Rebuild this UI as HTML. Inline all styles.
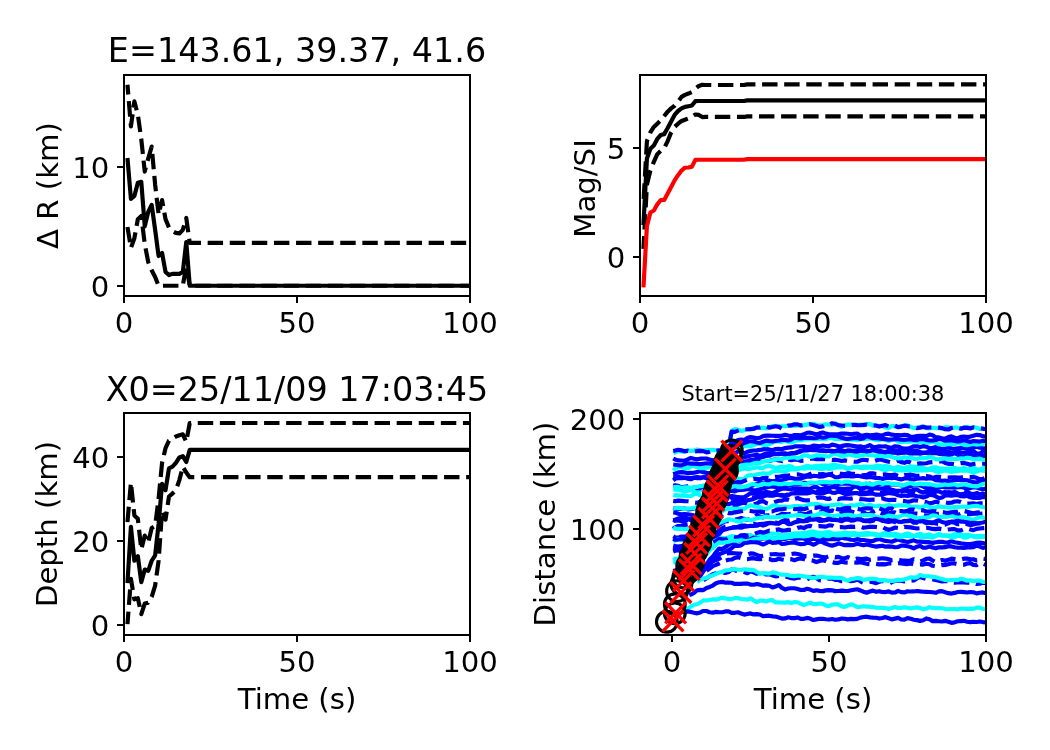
<!DOCTYPE html><html><head><meta charset="utf-8"><title>plot</title><style>html,body{margin:0;padding:0;background:#fff}svg{display:block}</style></head><body><svg width="1050" height="750" viewBox="0 0 1050 750" font-family='"DejaVu Sans", "Liberation Sans", sans-serif' fill="#000"><clipPath id="c1"><rect x="124" y="75" width="346" height="221"/></clipPath>
<g clip-path="url(#c1)"><path d="M127.46 158.02 L130.92 198.94 L134.38 195.97 L137.84 182.76 L141.3 181.81 L144.76 226.3 L148.22 212.02 L151.68 204.89 L155.14 229.87 L158.6 256.03 L162.06 252.94 L165.52 271.97 L168.98 275.07 L172.44 273.88 L175.9 273.88 L179.36 273.88 L182.82 271.97 L186.28 242 L189.74 285.77 L193.2 285.77 L196.66 285.77 L200.12 285.77 L203.58 285.77 L207.04 285.77 L210.5 285.77 L213.96 285.77 L217.42 285.77 L220.88 285.77 L224.34 285.77 L227.8 285.77 L231.26 285.77 L234.72 285.77 L238.18 285.77 L241.64 285.77 L245.1 285.77 L248.56 285.77 L252.02 285.77 L255.48 285.77 L258.94 285.77 L262.4 285.77 L265.86 285.77 L269.32 285.77 L272.78 285.77 L276.24 285.77 L279.7 285.77 L283.16 285.77 L286.62 285.77 L290.08 285.77 L293.54 285.77 L297 285.77 L300.46 285.77 L303.92 285.77 L307.38 285.77 L310.84 285.77 L314.3 285.77 L317.76 285.77 L321.22 285.77 L324.68 285.77 L328.14 285.77 L331.6 285.77 L335.06 285.77 L338.52 285.77 L341.98 285.77 L345.44 285.77 L348.9 285.77 L352.36 285.77 L355.82 285.77 L359.28 285.77 L362.74 285.77 L366.2 285.77 L369.66 285.77 L373.12 285.77 L376.58 285.77 L380.04 285.77 L383.5 285.77 L386.96 285.77 L390.42 285.77 L393.88 285.77 L397.34 285.77 L400.8 285.77 L404.26 285.77 L407.72 285.77 L411.18 285.77 L414.64 285.77 L418.1 285.77 L421.56 285.77 L425.02 285.77 L428.48 285.77 L431.94 285.77 L435.4 285.77 L438.86 285.77 L442.32 285.77 L445.78 285.77 L449.24 285.77 L452.7 285.77 L456.16 285.77 L459.62 285.77 L463.08 285.77 L466.54 285.77 L470 285.77" fill="none" stroke="#000" stroke-width="4.17" stroke-linejoin="round" stroke-linecap="butt"/><path d="M127.46 84.75 L130.92 126.38 L134.38 101.41 L137.84 114.49 L141.3 139.47 L144.76 171.58 L148.22 158.5 L151.68 146.6 L155.14 184.67 L158.6 214.4 L162.06 200.13 L165.52 219.16 L168.98 227.49 L172.44 231.06 L175.9 232.84 L179.36 233.43 L182.82 229.87 L186.28 217.97 L189.74 242.95 L193.2 242.95 L196.66 242.95 L200.12 242.95 L203.58 242.95 L207.04 242.95 L210.5 242.95 L213.96 242.95 L217.42 242.95 L220.88 242.95 L224.34 242.95 L227.8 242.95 L231.26 242.95 L234.72 242.95 L238.18 242.95 L241.64 242.95 L245.1 242.95 L248.56 242.95 L252.02 242.95 L255.48 242.95 L258.94 242.95 L262.4 242.95 L265.86 242.95 L269.32 242.95 L272.78 242.95 L276.24 242.95 L279.7 242.95 L283.16 242.95 L286.62 242.95 L290.08 242.95 L293.54 242.95 L297 242.95 L300.46 242.95 L303.92 242.95 L307.38 242.95 L310.84 242.95 L314.3 242.95 L317.76 242.95 L321.22 242.95 L324.68 242.95 L328.14 242.95 L331.6 242.95 L335.06 242.95 L338.52 242.95 L341.98 242.95 L345.44 242.95 L348.9 242.95 L352.36 242.95 L355.82 242.95 L359.28 242.95 L362.74 242.95 L366.2 242.95 L369.66 242.95 L373.12 242.95 L376.58 242.95 L380.04 242.95 L383.5 242.95 L386.96 242.95 L390.42 242.95 L393.88 242.95 L397.34 242.95 L400.8 242.95 L404.26 242.95 L407.72 242.95 L411.18 242.95 L414.64 242.95 L418.1 242.95 L421.56 242.95 L425.02 242.95 L428.48 242.95 L431.94 242.95 L435.4 242.95 L438.86 242.95 L442.32 242.95 L445.78 242.95 L449.24 242.95 L452.7 242.95 L456.16 242.95 L459.62 242.95 L463.08 242.95 L466.54 242.95 L470 242.95" fill="none" stroke="#000" stroke-width="4.17" stroke-linejoin="round" stroke-linecap="butt" stroke-dasharray="15.43 6.67" stroke-dashoffset="5.6"/><path d="M127.46 227.01 L130.92 247.95 L134.38 238.19 L137.84 219.16 L141.3 215.95 L144.76 244.14 L148.22 261.98 L151.68 270.31 L155.14 276.97 L158.6 285.77 L162.06 285.77 L165.52 285.77 L168.98 285.77 L172.44 285.77 L175.9 285.77 L179.36 285.77 L182.82 285.77 L186.28 265.55 L189.74 285.77 L193.2 285.77 L196.66 285.77 L200.12 285.77 L203.58 285.77 L207.04 285.77 L210.5 285.77 L213.96 285.77 L217.42 285.77 L220.88 285.77 L224.34 285.77 L227.8 285.77 L231.26 285.77 L234.72 285.77 L238.18 285.77 L241.64 285.77 L245.1 285.77 L248.56 285.77 L252.02 285.77 L255.48 285.77 L258.94 285.77 L262.4 285.77 L265.86 285.77 L269.32 285.77 L272.78 285.77 L276.24 285.77 L279.7 285.77 L283.16 285.77 L286.62 285.77 L290.08 285.77 L293.54 285.77 L297 285.77 L300.46 285.77 L303.92 285.77 L307.38 285.77 L310.84 285.77 L314.3 285.77 L317.76 285.77 L321.22 285.77 L324.68 285.77 L328.14 285.77 L331.6 285.77 L335.06 285.77 L338.52 285.77 L341.98 285.77 L345.44 285.77 L348.9 285.77 L352.36 285.77 L355.82 285.77 L359.28 285.77 L362.74 285.77 L366.2 285.77 L369.66 285.77 L373.12 285.77 L376.58 285.77 L380.04 285.77 L383.5 285.77 L386.96 285.77 L390.42 285.77 L393.88 285.77 L397.34 285.77 L400.8 285.77 L404.26 285.77 L407.72 285.77 L411.18 285.77 L414.64 285.77 L418.1 285.77 L421.56 285.77 L425.02 285.77 L428.48 285.77 L431.94 285.77 L435.4 285.77 L438.86 285.77 L442.32 285.77 L445.78 285.77 L449.24 285.77 L452.7 285.77 L456.16 285.77 L459.62 285.77 L463.08 285.77 L466.54 285.77 L470 285.77" fill="none" stroke="#000" stroke-width="4.17" stroke-linejoin="round" stroke-linecap="butt" stroke-dasharray="15.43 6.67"/></g>
<rect x="124" y="75" width="346" height="221" fill="none" stroke="#000" stroke-width="2.0"/>
<line x1="124" y1="296" x2="124" y2="303" stroke="#000" stroke-width="2.0"/>
<text x="124" y="333" font-size="29.17" text-anchor="middle">0</text>
<line x1="297" y1="296" x2="297" y2="303" stroke="#000" stroke-width="2.0"/>
<text x="297" y="333" font-size="29.17" text-anchor="middle">50</text>
<line x1="470" y1="296" x2="470" y2="303" stroke="#000" stroke-width="2.0"/>
<text x="470" y="333" font-size="29.17" text-anchor="middle">100</text>
<line x1="117" y1="286" x2="124" y2="286" stroke="#000" stroke-width="2.0"/>
<text x="109.4" y="296.6" font-size="29.17" text-anchor="end">0</text>
<line x1="117" y1="167" x2="124" y2="167" stroke="#000" stroke-width="2.0"/>
<text x="109.4" y="177.6" font-size="29.17" text-anchor="end">10</text>
<text transform="translate(58 185.5) rotate(-90)" font-size="29.17" text-anchor="middle">Δ R (km)</text>
<text x="297" y="61.8" font-size="33.4" text-anchor="middle">E=143.61, 39.37, 41.6</text>
<clipPath id="c2"><rect x="640" y="75" width="346" height="221"/></clipPath>
<g clip-path="url(#c2)"><path d="M643.46 225.1 L646.92 158.56 L650.38 148.74 L653.84 145.47 L657.3 138.92 L660.76 135 L664.22 134.12 L667.68 128.01 L671.14 121.47 L674.6 114.92 L678.06 111 L681.52 108.38 L684.98 106.85 L688.44 106.2 L691.9 105.54 L695.36 101.18 L698.82 100.96 L702.28 100.96 L705.74 100.96 L709.2 100.96 L712.66 100.96 L716.12 100.96 L719.58 100.96 L723.04 100.96 L726.5 100.96 L729.96 100.96 L733.42 100.96 L736.88 100.96 L740.34 100.96 L743.8 100.96 L747.26 100.35 L750.72 100.35 L754.18 100.35 L757.64 100.35 L761.1 100.35 L764.56 100.35 L768.02 100.35 L771.48 100.35 L774.94 100.35 L778.4 100.35 L781.86 100.35 L785.32 100.35 L788.78 100.35 L792.24 100.35 L795.7 100.35 L799.16 100.35 L802.62 100.35 L806.08 100.35 L809.54 100.35 L813 100.35 L816.46 100.35 L819.92 100.35 L823.38 100.35 L826.84 100.35 L830.3 100.35 L833.76 100.35 L837.22 100.35 L840.68 100.35 L844.14 100.35 L847.6 100.35 L851.06 100.35 L854.52 100.35 L857.98 100.35 L861.44 100.35 L864.9 100.35 L868.36 100.35 L871.82 100.35 L875.28 100.35 L878.74 100.35 L882.2 100.35 L885.66 100.35 L889.12 100.35 L892.58 100.35 L896.04 100.35 L899.5 100.35 L902.96 100.35 L906.42 100.35 L909.88 100.35 L913.34 100.35 L916.8 100.35 L920.26 100.35 L923.72 100.35 L927.18 100.35 L930.64 100.35 L934.1 100.35 L937.56 100.35 L941.02 100.35 L944.48 100.35 L947.94 100.35 L951.4 100.35 L954.86 100.35 L958.32 100.35 L961.78 100.35 L965.24 100.35 L968.7 100.35 L972.16 100.35 L975.62 100.35 L979.08 100.35 L982.54 100.35 L986 100.35" fill="none" stroke="#000" stroke-width="4.17" stroke-linejoin="round" stroke-linecap="butt"/><path d="M643.46 202.19 L646.92 141.1 L650.38 132.38 L653.84 126.92 L657.3 123.65 L660.76 120.38 L664.22 116.01 L667.68 111.65 L671.14 108.38 L674.6 105.76 L678.06 101.83 L681.52 96.82 L684.98 94.85 L688.44 93.54 L691.9 92.02 L695.36 88.74 L698.82 85.91 L702.28 84.82 L705.74 84.97 L709.2 84.97 L712.66 84.97 L716.12 84.97 L719.58 84.97 L723.04 84.97 L726.5 84.97 L729.96 84.97 L733.42 84.97 L736.88 84.97 L740.34 84.97 L743.8 84.97 L747.26 84.38 L750.72 84.38 L754.18 84.38 L757.64 84.38 L761.1 84.38 L764.56 84.38 L768.02 84.38 L771.48 84.38 L774.94 84.38 L778.4 84.38 L781.86 84.38 L785.32 84.38 L788.78 84.38 L792.24 84.38 L795.7 84.38 L799.16 84.38 L802.62 84.38 L806.08 84.38 L809.54 84.38 L813 84.38 L816.46 84.38 L819.92 84.38 L823.38 84.38 L826.84 84.38 L830.3 84.38 L833.76 84.38 L837.22 84.38 L840.68 84.38 L844.14 84.38 L847.6 84.38 L851.06 84.38 L854.52 84.38 L857.98 84.38 L861.44 84.38 L864.9 84.38 L868.36 84.38 L871.82 84.38 L875.28 84.38 L878.74 84.38 L882.2 84.38 L885.66 84.38 L889.12 84.38 L892.58 84.38 L896.04 84.38 L899.5 84.38 L902.96 84.38 L906.42 84.38 L909.88 84.38 L913.34 84.38 L916.8 84.38 L920.26 84.38 L923.72 84.38 L927.18 84.38 L930.64 84.38 L934.1 84.38 L937.56 84.38 L941.02 84.38 L944.48 84.38 L947.94 84.38 L951.4 84.38 L954.86 84.38 L958.32 84.38 L961.78 84.38 L965.24 84.38 L968.7 84.38 L972.16 84.38 L975.62 84.38 L979.08 84.38 L982.54 84.38 L986 84.38" fill="none" stroke="#000" stroke-width="4.17" stroke-linejoin="round" stroke-linecap="butt" stroke-dasharray="15.43 6.67" stroke-dashoffset="-3.4"/><path d="M643.46 248.88 L646.92 184.74 L650.38 170.56 L653.84 161.83 L657.3 154.19 L660.76 150.92 L664.22 148.08 L667.68 141.1 L671.14 132.38 L674.6 126.92 L678.06 123.65 L681.52 121.03 L684.98 119.72 L688.44 118.41 L691.9 116.67 L695.36 114.49 L698.82 114.92 L702.28 117.11 L705.74 116.95 L709.2 116.95 L712.66 116.95 L716.12 116.95 L719.58 116.95 L723.04 116.95 L726.5 116.95 L729.96 116.95 L733.42 116.95 L736.88 116.95 L740.34 116.95 L743.8 116.95 L747.26 116.36 L750.72 116.36 L754.18 116.36 L757.64 116.36 L761.1 116.36 L764.56 116.36 L768.02 116.36 L771.48 116.36 L774.94 116.36 L778.4 116.36 L781.86 116.36 L785.32 116.36 L788.78 116.36 L792.24 116.36 L795.7 116.36 L799.16 116.36 L802.62 116.36 L806.08 116.36 L809.54 116.36 L813 116.36 L816.46 116.36 L819.92 116.36 L823.38 116.36 L826.84 116.36 L830.3 116.36 L833.76 116.36 L837.22 116.36 L840.68 116.36 L844.14 116.36 L847.6 116.36 L851.06 116.36 L854.52 116.36 L857.98 116.36 L861.44 116.36 L864.9 116.36 L868.36 116.36 L871.82 116.36 L875.28 116.36 L878.74 116.36 L882.2 116.36 L885.66 116.36 L889.12 116.36 L892.58 116.36 L896.04 116.36 L899.5 116.36 L902.96 116.36 L906.42 116.36 L909.88 116.36 L913.34 116.36 L916.8 116.36 L920.26 116.36 L923.72 116.36 L927.18 116.36 L930.64 116.36 L934.1 116.36 L937.56 116.36 L941.02 116.36 L944.48 116.36 L947.94 116.36 L951.4 116.36 L954.86 116.36 L958.32 116.36 L961.78 116.36 L965.24 116.36 L968.7 116.36 L972.16 116.36 L975.62 116.36 L979.08 116.36 L982.54 116.36 L986 116.36" fill="none" stroke="#000" stroke-width="4.17" stroke-linejoin="round" stroke-linecap="butt" stroke-dasharray="15.43 6.67" stroke-dashoffset="2.7"/><path d="M643.46 287.27 L646.92 226.19 L650.38 212.44 L653.84 210.48 L657.3 204.37 L660.76 200.01 L664.22 200.01 L667.68 193.46 L671.14 186.92 L674.6 180.37 L678.06 175.14 L681.52 170.56 L684.98 167.72 L688.44 167.5 L691.9 166.63 L695.36 159.87 L698.82 159.76 L702.28 159.76 L705.74 159.76 L709.2 159.76 L712.66 159.76 L716.12 159.76 L719.58 159.76 L723.04 159.76 L726.5 159.76 L729.96 159.76 L733.42 159.76 L736.88 159.76 L740.34 159.76 L743.8 159.76 L747.26 159.1 L750.72 159.1 L754.18 159.1 L757.64 159.1 L761.1 159.1 L764.56 159.1 L768.02 159.1 L771.48 159.1 L774.94 159.1 L778.4 159.1 L781.86 159.1 L785.32 159.1 L788.78 159.1 L792.24 159.1 L795.7 159.1 L799.16 159.1 L802.62 159.1 L806.08 159.1 L809.54 159.1 L813 159.1 L816.46 159.1 L819.92 159.1 L823.38 159.1 L826.84 159.1 L830.3 159.1 L833.76 159.1 L837.22 159.1 L840.68 159.1 L844.14 159.1 L847.6 159.1 L851.06 159.1 L854.52 159.1 L857.98 159.1 L861.44 159.1 L864.9 159.1 L868.36 159.1 L871.82 159.1 L875.28 159.1 L878.74 159.1 L882.2 159.1 L885.66 159.1 L889.12 159.1 L892.58 159.1 L896.04 159.1 L899.5 159.1 L902.96 159.1 L906.42 159.1 L909.88 159.1 L913.34 159.1 L916.8 159.1 L920.26 159.1 L923.72 159.1 L927.18 159.1 L930.64 159.1 L934.1 159.1 L937.56 159.1 L941.02 159.1 L944.48 159.1 L947.94 159.1 L951.4 159.1 L954.86 159.1 L958.32 159.1 L961.78 159.1 L965.24 159.1 L968.7 159.1 L972.16 159.1 L975.62 159.1 L979.08 159.1 L982.54 159.1 L986 159.1" fill="none" stroke="#f00" stroke-width="4.17" stroke-linejoin="round" stroke-linecap="butt"/></g>
<rect x="640" y="75" width="346" height="221" fill="none" stroke="#000" stroke-width="2.0"/>
<line x1="640" y1="296" x2="640" y2="303" stroke="#000" stroke-width="2.0"/>
<text x="640" y="333" font-size="29.17" text-anchor="middle">0</text>
<line x1="813" y1="296" x2="813" y2="303" stroke="#000" stroke-width="2.0"/>
<text x="813" y="333" font-size="29.17" text-anchor="middle">50</text>
<line x1="986" y1="296" x2="986" y2="303" stroke="#000" stroke-width="2.0"/>
<text x="986" y="333" font-size="29.17" text-anchor="middle">100</text>
<line x1="633" y1="257" x2="640" y2="257" stroke="#000" stroke-width="2.0"/>
<text x="625.4" y="267.6" font-size="29.17" text-anchor="end">0</text>
<line x1="633" y1="148" x2="640" y2="148" stroke="#000" stroke-width="2.0"/>
<text x="625.4" y="158.6" font-size="29.17" text-anchor="end">5</text>
<text transform="translate(595 188.5) rotate(-90)" font-size="29.17" text-anchor="middle">Mag/SI</text>
<clipPath id="c3"><rect x="124" y="413" width="346" height="222"/></clipPath>
<g clip-path="url(#c3)"><path d="M127.46 583.01 L130.92 526.73 L134.38 560.75 L137.84 556.13 L141.3 582.17 L144.76 569.57 L148.22 570.83 L151.68 560.75 L155.14 555.29 L158.6 523.79 L162.06 483.89 L165.52 490.19 L168.98 468.35 L172.44 466.67 L175.9 462.89 L179.36 457.43 L182.82 456.17 L186.28 462.05 L189.74 449.87 L193.2 449.87 L196.66 449.87 L200.12 449.87 L203.58 449.87 L207.04 449.87 L210.5 449.87 L213.96 449.87 L217.42 449.87 L220.88 449.87 L224.34 449.87 L227.8 449.87 L231.26 449.87 L234.72 449.87 L238.18 449.87 L241.64 449.87 L245.1 449.87 L248.56 449.87 L252.02 449.87 L255.48 449.87 L258.94 449.87 L262.4 449.87 L265.86 449.87 L269.32 449.87 L272.78 449.87 L276.24 449.87 L279.7 449.87 L283.16 449.87 L286.62 449.87 L290.08 449.87 L293.54 449.87 L297 449.87 L300.46 449.87 L303.92 449.87 L307.38 449.87 L310.84 449.87 L314.3 449.87 L317.76 449.87 L321.22 449.87 L324.68 449.87 L328.14 449.87 L331.6 449.87 L335.06 449.87 L338.52 449.87 L341.98 449.87 L345.44 449.87 L348.9 449.87 L352.36 449.87 L355.82 449.87 L359.28 449.87 L362.74 449.87 L366.2 449.87 L369.66 449.87 L373.12 449.87 L376.58 449.87 L380.04 449.87 L383.5 449.87 L386.96 449.87 L390.42 449.87 L393.88 449.87 L397.34 449.87 L400.8 449.87 L404.26 449.87 L407.72 449.87 L411.18 449.87 L414.64 449.87 L418.1 449.87 L421.56 449.87 L425.02 449.87 L428.48 449.87 L431.94 449.87 L435.4 449.87 L438.86 449.87 L442.32 449.87 L445.78 449.87 L449.24 449.87 L452.7 449.87 L456.16 449.87 L459.62 449.87 L463.08 449.87 L466.54 449.87 L470 449.87" fill="none" stroke="#000" stroke-width="4.17" stroke-linejoin="round" stroke-linecap="butt"/><path d="M127.46 522.11 L130.92 482.63 L134.38 515.39 L137.84 518.75 L141.3 549.41 L144.76 535.55 L148.22 542.69 L151.68 527.99 L155.14 525.89 L158.6 498.59 L162.06 462.89 L165.52 448.19 L168.98 440.63 L172.44 438.53 L175.9 436.43 L179.36 435.17 L182.82 434.33 L186.28 441.89 L189.74 423 L193.2 423 L196.66 423 L200.12 423 L203.58 423 L207.04 423 L210.5 423 L213.96 423 L217.42 423 L220.88 423 L224.34 423 L227.8 423 L231.26 423 L234.72 423 L238.18 423 L241.64 423 L245.1 423 L248.56 423 L252.02 423 L255.48 423 L258.94 423 L262.4 423 L265.86 423 L269.32 423 L272.78 423 L276.24 423 L279.7 423 L283.16 423 L286.62 423 L290.08 423 L293.54 423 L297 423 L300.46 423 L303.92 423 L307.38 423 L310.84 423 L314.3 423 L317.76 423 L321.22 423 L324.68 423 L328.14 423 L331.6 423 L335.06 423 L338.52 423 L341.98 423 L345.44 423 L348.9 423 L352.36 423 L355.82 423 L359.28 423 L362.74 423 L366.2 423 L369.66 423 L373.12 423 L376.58 423 L380.04 423 L383.5 423 L386.96 423 L390.42 423 L393.88 423 L397.34 423 L400.8 423 L404.26 423 L407.72 423 L411.18 423 L414.64 423 L418.1 423 L421.56 423 L425.02 423 L428.48 423 L431.94 423 L435.4 423 L438.86 423 L442.32 423 L445.78 423 L449.24 423 L452.7 423 L456.16 423 L459.62 423 L463.08 423 L466.54 423 L470 423" fill="none" stroke="#000" stroke-width="4.17" stroke-linejoin="round" stroke-linecap="butt" stroke-dasharray="15.43 6.67"/><path d="M127.46 624.16 L130.92 578.81 L134.38 599.39 L137.84 598.13 L141.3 614.09 L144.76 603.59 L148.22 602.75 L151.68 596.87 L155.14 585.53 L158.6 560.75 L162.06 511.19 L165.52 519.59 L168.98 496.49 L172.44 493.55 L175.9 490.19 L179.36 480.11 L182.82 466.67 L186.28 472.55 L189.74 477.17 L193.2 477.17 L196.66 477.17 L200.12 477.17 L203.58 477.17 L207.04 477.17 L210.5 477.17 L213.96 477.17 L217.42 477.17 L220.88 477.17 L224.34 477.17 L227.8 477.17 L231.26 477.17 L234.72 477.17 L238.18 477.17 L241.64 477.17 L245.1 477.17 L248.56 477.17 L252.02 477.17 L255.48 477.17 L258.94 477.17 L262.4 477.17 L265.86 477.17 L269.32 477.17 L272.78 477.17 L276.24 477.17 L279.7 477.17 L283.16 477.17 L286.62 477.17 L290.08 477.17 L293.54 477.17 L297 477.17 L300.46 477.17 L303.92 477.17 L307.38 477.17 L310.84 477.17 L314.3 477.17 L317.76 477.17 L321.22 477.17 L324.68 477.17 L328.14 477.17 L331.6 477.17 L335.06 477.17 L338.52 477.17 L341.98 477.17 L345.44 477.17 L348.9 477.17 L352.36 477.17 L355.82 477.17 L359.28 477.17 L362.74 477.17 L366.2 477.17 L369.66 477.17 L373.12 477.17 L376.58 477.17 L380.04 477.17 L383.5 477.17 L386.96 477.17 L390.42 477.17 L393.88 477.17 L397.34 477.17 L400.8 477.17 L404.26 477.17 L407.72 477.17 L411.18 477.17 L414.64 477.17 L418.1 477.17 L421.56 477.17 L425.02 477.17 L428.48 477.17 L431.94 477.17 L435.4 477.17 L438.86 477.17 L442.32 477.17 L445.78 477.17 L449.24 477.17 L452.7 477.17 L456.16 477.17 L459.62 477.17 L463.08 477.17 L466.54 477.17 L470 477.17" fill="none" stroke="#000" stroke-width="4.17" stroke-linejoin="round" stroke-linecap="butt" stroke-dasharray="15.43 6.67" stroke-dashoffset="2.8"/></g>
<rect x="124" y="413" width="346" height="222" fill="none" stroke="#000" stroke-width="2.0"/>
<line x1="124" y1="635" x2="124" y2="642" stroke="#000" stroke-width="2.0"/>
<text x="124" y="672" font-size="29.17" text-anchor="middle">0</text>
<line x1="297" y1="635" x2="297" y2="642" stroke="#000" stroke-width="2.0"/>
<text x="297" y="672" font-size="29.17" text-anchor="middle">50</text>
<line x1="470" y1="635" x2="470" y2="642" stroke="#000" stroke-width="2.0"/>
<text x="470" y="672" font-size="29.17" text-anchor="middle">100</text>
<line x1="117" y1="625" x2="124" y2="625" stroke="#000" stroke-width="2.0"/>
<text x="109.4" y="635.6" font-size="29.17" text-anchor="end">0</text>
<line x1="117" y1="541" x2="124" y2="541" stroke="#000" stroke-width="2.0"/>
<text x="109.4" y="551.6" font-size="29.17" text-anchor="end">20</text>
<line x1="117" y1="457" x2="124" y2="457" stroke="#000" stroke-width="2.0"/>
<text x="109.4" y="467.6" font-size="29.17" text-anchor="end">40</text>
<text x="297" y="708.5" font-size="29.17" text-anchor="middle">Time (s)</text>
<text transform="translate(57 524) rotate(-90)" font-size="29.17" text-anchor="middle">Depth (km)</text>
<text x="297" y="400.6" font-size="33.4" text-anchor="middle">X0=25/11/09 17:03:45</text>
<clipPath id="c4"><rect x="640" y="413" width="346" height="222"/></clipPath>
<g clip-path="url(#c4)"><path d="M708.11 565.02 L709.68 563.11 L712.82 561.38 L715.96 560.13 L719.1 558.82 L722.24 557.05 L725.38 554.21 L728.52 553.02 L731.66 553.1 L734.8 553.23 L737.94 553.63 L741.08 553.7 L744.22 554.88 L747.36 554.55 L750.5 553.38 L753.64 553.61 L756.78 554.87 L759.92 556.16 L763.06 555.75 L766.2 555.08 L769.34 554.45 L772.48 554.25 L775.62 554.17 L778.76 554.54 L781.9 554.7 L785.04 554.16 L788.18 554.73 L791.32 554.03 L794.46 553.53 L797.6 554 L800.74 554.83 L803.88 556.09 L807.02 556.11 L810.16 555.93 L813.3 555.57 L816.44 555.55 L819.58 556.32 L822.72 557.17 L825.86 557.39 L829 556.35 L832.14 556.69 L835.28 557.41 L838.42 556.9 L841.56 558.04 L844.7 558.43 L847.84 557.05 L850.98 558.37 L854.12 559.46 L857.26 558.57 L860.4 559.02 L863.54 558.87 L866.68 558.62 L869.82 559.89 L872.96 559.57 L876.1 558.56 L879.24 558.67 L882.38 558.25 L885.52 558.59 L888.66 559.33 L891.8 560.27 L894.94 560 L898.08 559.63 L901.22 560.23 L904.36 560.6 L907.5 560.9 L910.64 560.5 L913.78 559.26 L916.92 560.1 L920.06 561.64 L923.2 560.38 L926.34 558.78 L929.48 558.6 L932.62 560.47 L935.76 562.2 L938.9 560.96 L942.04 559.98 L945.18 560.81 L948.32 559.86 L951.46 558.64 L954.6 559.1 L957.74 559.59 L960.88 559.44 L964.02 558.7 L967.16 558.61 L970.3 559.22 L973.44 559.27 L976.58 560.44 L979.72 560.04 L982.86 558.65 L986 559.07" fill="none" stroke="#0000ff" stroke-width="4.17" stroke-linejoin="round" stroke-linecap="butt" stroke-dasharray="15.43 6.67"/><path d="M673.25 453.13 L675.14 452.37 L678.28 450.77 L681.42 451.39 L684.56 451.93 L687.7 450.32 L690.84 450.92 L693.98 450.56 L697.12 449.49 L700.26 450.44 L703.4 450.53 L706.54 450.06 L709.68 450.14 L712.82 449.83 L715.96 450.24 L719.1 451.07 L722.24 450.09 L725.38 449.82 L728.52 447.6 L731.66 430.78 L734.8 429.15 L737.94 429.6 L741.08 430.87 L744.22 430.38 L747.36 429.37 L750.5 429.14 L753.64 427.96 L756.78 428.04 L759.92 427.8 L763.06 427.62 L766.2 428.44 L769.34 427.23 L772.48 426.02 L775.62 425.74 L778.76 426.03 L781.9 426.28 L785.04 426.24 L788.18 425.85 L791.32 425.88 L794.46 425.9 L797.6 425.33 L800.74 425.34 L803.88 425.08 L807.02 424.62 L810.16 423.78 L813.3 423.76 L816.44 424.97 L819.58 425.21 L822.72 425.01 L825.86 424.31 L829 424.51 L832.14 424.84 L835.28 423.65 L838.42 425.32 L841.56 427 L844.7 425.46 L847.84 424.64 L850.98 424.66 L854.12 425.15 L857.26 424.95 L860.4 424.57 L863.54 425.34 L866.68 424.25 L869.82 423.87 L872.96 425.65 L876.1 426.01 L879.24 425.94 L882.38 426.03 L885.52 427.53 L888.66 427.87 L891.8 425.9 L894.94 426.39 L898.08 427.1 L901.22 426.03 L904.36 425.63 L907.5 425.44 L910.64 426.97 L913.78 428.11 L916.92 427.46 L920.06 427.03 L923.2 426.34 L926.34 428.26 L929.48 428.35 L932.62 427.74 L935.76 428.05 L938.9 428.16 L942.04 428.52 L945.18 427.11 L948.32 427.37 L951.46 428.01 L954.6 427.57 L957.74 427.68 L960.88 428.25 L964.02 427.56 L967.16 427.01 L970.3 428.11 L973.44 427.25 L976.58 427.81 L979.72 428.91 L982.86 428.5 L986 429.02" fill="none" stroke="#00ffff" stroke-width="4.17" stroke-linejoin="round" stroke-linecap="butt"/><path d="M673.25 489.34 L675.14 489.61 L678.28 489.65 L681.42 490.63 L684.56 491.84 L687.7 490.65 L690.84 490.35 L693.98 491.27 L697.12 491.56 L700.26 490.29 L703.4 489.06 L706.54 488.95 L709.68 489.9 L712.82 490.72 L715.96 488.85 L719.1 484.69 L722.24 479.44 L725.38 476.62 L728.52 472.9 L731.66 468.12 L734.8 468.93 L737.94 470.42 L741.08 469.38 L744.22 468.18 L747.36 469.14 L750.5 468.71 L753.64 467.99 L756.78 467.22 L759.92 467.86 L763.06 467.9 L766.2 466.35 L769.34 466.07 L772.48 466.89 L775.62 468 L778.76 467.23 L781.9 466.64 L785.04 467.03 L788.18 466.2 L791.32 466.3 L794.46 468.27 L797.6 468.23 L800.74 467.87 L803.88 467.1 L807.02 465.78 L810.16 466.47 L813.3 466.54 L816.44 465.76 L819.58 465.73 L822.72 465.48 L825.86 465.58 L829 465.76 L832.14 464.91 L835.28 464.62 L838.42 465.84 L841.56 466.27 L844.7 466.96 L847.84 468.07 L850.98 468.14 L854.12 466.97 L857.26 466.58 L860.4 467.2 L863.54 466.65 L866.68 466.68 L869.82 466.95 L872.96 466.85 L876.1 465.57 L879.24 465.73 L882.38 466.48 L885.52 466 L888.66 466.45 L891.8 467.76 L894.94 468.01 L898.08 466.76 L901.22 467.42 L904.36 468.4 L907.5 466.97 L910.64 466.24 L913.78 466.85 L916.92 466.89 L920.06 466.85 L923.2 468.01 L926.34 469 L929.48 468.72 L932.62 467.37 L935.76 467.35 L938.9 468.39 L942.04 468.54 L945.18 468.91 L948.32 468.57 L951.46 468.41 L954.6 468.16 L957.74 468.85 L960.88 468.9 L964.02 467.97 L967.16 469.26 L970.3 468.52 L973.44 467.62 L976.58 469.29 L979.72 469.65 L982.86 468.28 L986 468.07" fill="none" stroke="#00ffff" stroke-width="4.17" stroke-linejoin="round" stroke-linecap="butt"/><path d="M703.4 580.36 L706.54 578.22 L709.68 576.12 L712.82 574.19 L715.96 573.14 L719.1 572.28 L722.24 572.1 L725.38 572.95 L728.52 572.02 L731.66 569.46 L734.8 570.07 L737.94 571.63 L741.08 570.96 L744.22 572.04 L747.36 573.22 L750.5 571.26 L753.64 572.4 L756.78 573.73 L759.92 572.53 L763.06 573.34 L766.2 574.44 L769.34 574.24 L772.48 575.42 L775.62 576.34 L778.76 576.03 L781.9 575.89 L785.04 576.43 L788.18 577.37 L791.32 578.28 L794.46 578.55 L797.6 577.66 L800.74 577.58 L803.88 578.73 L807.02 579.43 L810.16 577.65 L813.3 576.72 L816.44 578.03 L819.58 580.28 L822.72 580.47 L825.86 578.93 L829 578.52 L832.14 578.72 L835.28 579.88 L838.42 580 L841.56 581.22 L844.7 581.11 L847.84 580.03 L850.98 581.17 L854.12 580.79 L857.26 579.57 L860.4 581.26 L863.54 582.82 L866.68 582.05 L869.82 581.76 L872.96 582.32 L876.1 583.14 L879.24 581.91 L882.38 580.75 L885.52 582.54 L888.66 583.82 L891.8 582.16 L894.94 580.82 L898.08 580.7 L901.22 580.76 L904.36 581.41 L907.5 580.88 L910.64 580.75 L913.78 580.47 L916.92 578.46 L920.06 576.91 L923.2 577.94 L926.34 578.96 L929.48 578.96 L932.62 579.34 L935.76 579.9 L938.9 580.65 L942.04 581.35 L945.18 581.2 L948.32 581.16 L951.46 582.23 L954.6 582.77 L957.74 582.48 L960.88 582.36 L964.02 582.44 L967.16 582.55 L970.3 582.71 L973.44 582.95 L976.58 583.92 L979.72 583.78 L982.86 582.66 L986 582.82" fill="none" stroke="#0000ff" stroke-width="4.17" stroke-linejoin="round" stroke-linecap="butt" stroke-dasharray="15.43 6.67"/><path d="M673.25 485.72 L675.14 485.41 L678.28 485.91 L681.42 487.29 L684.56 486.79 L687.7 486.32 L690.84 486.01 L693.98 486.17 L697.12 488.12 L700.26 488.16 L703.4 485.89 L706.54 485.6 L709.68 487.31 L712.82 487.59 L715.96 486.61 L719.1 481.19 L722.24 476.6 L725.38 471.28 L728.52 466.2 L731.66 462.26 L734.8 462.24 L737.94 461.21 L741.08 460.92 L744.22 461.18 L747.36 462.23 L750.5 462.79 L753.64 461.7 L756.78 461.69 L759.92 461.41 L763.06 460.83 L766.2 460.83 L769.34 461.14 L772.48 460.09 L775.62 459.14 L778.76 460.54 L781.9 461.05 L785.04 459.35 L788.18 459.45 L791.32 460.27 L794.46 459.4 L797.6 459.74 L800.74 460.8 L803.88 460.56 L807.02 459.58 L810.16 458.91 L813.3 458.54 L816.44 459.2 L819.58 459.21 L822.72 458.97 L825.86 459.38 L829 459.69 L832.14 459.99 L835.28 459.69 L838.42 460.19 L841.56 460.96 L844.7 460.42 L847.84 460.93 L850.98 461.22 L854.12 461.57 L857.26 461.76 L860.4 460.37 L863.54 459.72 L866.68 460.12 L869.82 460.67 L872.96 461.54 L876.1 460.5 L879.24 459.54 L882.38 460.06 L885.52 460.95 L888.66 461.77 L891.8 462.4 L894.94 461.97 L898.08 460.55 L901.22 462.15 L904.36 462.81 L907.5 461.51 L910.64 462.58 L913.78 464.05 L916.92 463.78 L920.06 463.22 L923.2 463.52 L926.34 463.21 L929.48 462.35 L932.62 462.07 L935.76 461.88 L938.9 461.46 L942.04 461.26 L945.18 462.89 L948.32 463.88 L951.46 463.8 L954.6 464.17 L957.74 463.69 L960.88 463.14 L964.02 462.89 L967.16 463.83 L970.3 464.85 L973.44 464.04 L976.58 463.52 L979.72 463.74 L982.86 463.73 L986 464.04" fill="none" stroke="#0000ff" stroke-width="4.17" stroke-linejoin="round" stroke-linecap="butt" stroke-dasharray="15.43 6.67"/><path d="M673.25 476.04 L675.14 476.28 L678.28 476.78 L681.42 477.42 L684.56 477.54 L687.7 478.75 L690.84 479.27 L693.98 477.8 L697.12 478.16 L700.26 478.14 L703.4 477.29 L706.54 478.24 L709.68 478.53 L712.82 478 L715.96 477.68 L719.1 477.23 L722.24 473.93 L725.38 471.04 L728.52 467.39 L731.66 463.25 L734.8 462.13 L737.94 461.3 L741.08 461.48 L744.22 461.76 L747.36 460.94 L750.5 459.96 L753.64 459.74 L756.78 458.76 L759.92 457.79 L763.06 457.03 L766.2 455.83 L769.34 455.75 L772.48 454.38 L775.62 453.96 L778.76 454.27 L781.9 453.65 L785.04 453.27 L788.18 454.3 L791.32 454.96 L794.46 453.13 L797.6 452.01 L800.74 450.48 L803.88 450.26 L807.02 450.48 L810.16 449.86 L813.3 449.68 L816.44 449.88 L819.58 450.55 L822.72 450.6 L825.86 451.17 L829 450.85 L832.14 450.87 L835.28 451.45 L838.42 449.76 L841.56 450.08 L844.7 451.3 L847.84 450.58 L850.98 450.64 L854.12 451.79 L857.26 451.71 L860.4 451 L863.54 450.8 L866.68 451.61 L869.82 451.16 L872.96 449.93 L876.1 451.03 L879.24 451.94 L882.38 452.32 L885.52 451.81 L888.66 452.09 L891.8 452.63 L894.94 452.64 L898.08 453.53 L901.22 453 L904.36 452 L907.5 452.53 L910.64 453.78 L913.78 453.46 L916.92 453.24 L920.06 453.65 L923.2 452.9 L926.34 452.52 L929.48 453.72 L932.62 453.15 L935.76 452.93 L938.9 453.84 L942.04 454.27 L945.18 454.8 L948.32 455.49 L951.46 454.54 L954.6 452.87 L957.74 454.61 L960.88 456.28 L964.02 456.58 L967.16 455.16 L970.3 454.58 L973.44 455.34 L976.58 455.33 L979.72 455.43 L982.86 455.94 L986 455.93" fill="none" stroke="#0000ff" stroke-width="4.17" stroke-linejoin="round" stroke-linecap="butt"/><path d="M673.25 474.14 L675.14 473.38 L678.28 472.4 L681.42 472.1 L684.56 472.4 L687.7 473.16 L690.84 472.94 L693.98 472.71 L697.12 471.92 L700.26 471.22 L703.4 472.16 L706.54 472.85 L709.68 473.17 L712.82 473.43 L715.96 473.23 L719.1 472.54 L722.24 469.54 L725.38 463.94 L728.52 457.61 L731.66 452.88 L734.8 453.63 L737.94 451.28 L741.08 451.92 L744.22 453.36 L747.36 451.82 L750.5 451.04 L753.64 450.5 L756.78 450.31 L759.92 449.93 L763.06 449.36 L766.2 448.73 L769.34 449.59 L772.48 450.29 L775.62 449.01 L778.76 448.87 L781.9 449.23 L785.04 448.08 L788.18 447.63 L791.32 447.41 L794.46 446.41 L797.6 446.37 L800.74 446.27 L803.88 446.28 L807.02 447.12 L810.16 446.86 L813.3 445.6 L816.44 445.9 L819.58 446.24 L822.72 445.56 L825.86 446.02 L829 446.11 L832.14 444.61 L835.28 445.31 L838.42 446.29 L841.56 446.1 L844.7 445.35 L847.84 445.12 L850.98 445.51 L854.12 446.1 L857.26 446.63 L860.4 446.28 L863.54 447.29 L866.68 446.51 L869.82 445.09 L872.96 446.94 L876.1 447.09 L879.24 446.26 L882.38 446.49 L885.52 446.28 L888.66 447.44 L891.8 447.83 L894.94 446.23 L898.08 446.5 L901.22 447.97 L904.36 448.47 L907.5 448.65 L910.64 447.78 L913.78 446.22 L916.92 446.24 L920.06 447.11 L923.2 446.18 L926.34 446.64 L929.48 448.3 L932.62 447.75 L935.76 447.11 L938.9 448 L942.04 448.99 L945.18 448.3 L948.32 447.55 L951.46 448.48 L954.6 448.77 L957.74 448.38 L960.88 448.05 L964.02 447.85 L967.16 448.19 L970.3 448.36 L973.44 447.76 L976.58 446.82 L979.72 447.65 L982.86 447.99 L986 448.25" fill="none" stroke="#0000ff" stroke-width="4.17" stroke-linejoin="round" stroke-linecap="butt"/><path d="M673.25 450.96 L675.14 450.57 L678.28 449.73 L681.42 450.33 L684.56 451.19 L687.7 450.83 L690.84 451.59 L693.98 451.66 L697.12 451.17 L700.26 450.94 L703.4 451.16 L706.54 452.44 L709.68 451.76 L712.82 450.48 L715.96 450.78 L719.1 450.39 L722.24 450.21 L725.38 451.01 L728.52 447.3 L731.66 431.53 L734.8 431.85 L737.94 430.67 L741.08 429.5 L744.22 429.26 L747.36 429.24 L750.5 429.2 L753.64 428.88 L756.78 427.27 L759.92 427.5 L763.06 426.79 L766.2 426.45 L769.34 427.6 L772.48 427 L775.62 426.29 L778.76 426.93 L781.9 428.52 L785.04 427.34 L788.18 425.58 L791.32 425.42 L794.46 424.25 L797.6 424.34 L800.74 425.51 L803.88 424.96 L807.02 424.75 L810.16 424.19 L813.3 424.94 L816.44 425.92 L819.58 427 L822.72 426.37 L825.86 424.68 L829 424.64 L832.14 423.26 L835.28 423.81 L838.42 425.17 L841.56 425.47 L844.7 425.82 L847.84 425.92 L850.98 425.12 L854.12 424.78 L857.26 425.12 L860.4 425.26 L863.54 424.9 L866.68 424.64 L869.82 425.34 L872.96 425.35 L876.1 425.47 L879.24 426.59 L882.38 425.81 L885.52 425.02 L888.66 426.47 L891.8 426.24 L894.94 425.62 L898.08 427.2 L901.22 426.61 L904.36 425.66 L907.5 426.17 L910.64 426.36 L913.78 427.05 L916.92 428.13 L920.06 427.62 L923.2 426.85 L926.34 427.63 L929.48 427.53 L932.62 427.41 L935.76 427.31 L938.9 427.65 L942.04 428.13 L945.18 429.19 L948.32 429.49 L951.46 428.01 L954.6 427.11 L957.74 427.77 L960.88 428.66 L964.02 427.66 L967.16 427.86 L970.3 428.41 L973.44 427.38 L976.58 427.85 L979.72 428.18 L982.86 428.68 L986 429.33" fill="none" stroke="#0000ff" stroke-width="4.17" stroke-linejoin="round" stroke-linecap="butt" stroke-dasharray="15.43 6.67"/><path d="M689.27 595.06 L690.84 594.53 L693.98 592.91 L697.12 590.25 L700.26 589.85 L703.4 590.11 L706.54 588.07 L709.68 586.94 L712.82 585.55 L715.96 583.25 L719.1 582.29 L722.24 581.82 L725.38 582.65 L728.52 582.65 L731.66 582.77 L734.8 583.93 L737.94 583.73 L741.08 583.92 L744.22 583.49 L747.36 583.57 L750.5 584.63 L753.64 584.72 L756.78 583.97 L759.92 584.62 L763.06 585.65 L766.2 585.32 L769.34 585.73 L772.48 587.49 L775.62 586.6 L778.76 585.01 L781.9 587.86 L785.04 589.46 L788.18 588.48 L791.32 588.27 L794.46 588.22 L797.6 588.99 L800.74 590.04 L803.88 589.91 L807.02 588.84 L810.16 589.59 L813.3 590.82 L816.44 590.32 L819.58 590.91 L822.72 591.13 L825.86 590.38 L829 590.07 L832.14 590.3 L835.28 591.13 L838.42 591.04 L841.56 590.67 L844.7 590.91 L847.84 590.96 L850.98 590.26 L854.12 589.69 L857.26 589.24 L860.4 590.43 L863.54 591.7 L866.68 592.73 L869.82 591.52 L872.96 590.63 L876.1 591.79 L879.24 591.19 L882.38 591.97 L885.52 592.05 L888.66 591.35 L891.8 592.67 L894.94 592.54 L898.08 590.9 L901.22 592.15 L904.36 592.41 L907.5 591.3 L910.64 591.53 L913.78 591.45 L916.92 591.03 L920.06 591.44 L923.2 591.73 L926.34 591.88 L929.48 592.01 L932.62 592.28 L935.76 592.79 L938.9 591.41 L942.04 591.15 L945.18 592.25 L948.32 593.18 L951.46 593.58 L954.6 592.88 L957.74 591.96 L960.88 591.87 L964.02 592.15 L967.16 592.46 L970.3 592.04 L973.44 592.28 L976.58 593.38 L979.72 592.72 L982.86 592.42 L986 593.12" fill="none" stroke="#0000ff" stroke-width="4.17" stroke-linejoin="round" stroke-linecap="butt"/><path d="M684.56 610.57 L687.7 608.86 L690.84 606.65 L693.98 604.78 L697.12 604.26 L700.26 602.69 L703.4 600.38 L706.54 600.53 L709.68 599.95 L712.82 599.3 L715.96 599.66 L719.1 598.81 L722.24 597.64 L725.38 598.4 L728.52 598.95 L731.66 599.12 L734.8 598.13 L737.94 598.13 L741.08 598.96 L744.22 599.25 L747.36 599.67 L750.5 598.29 L753.64 600.36 L756.78 602.04 L759.92 600.56 L763.06 600.58 L766.2 601.44 L769.34 600.39 L772.48 600.18 L775.62 602.51 L778.76 602.28 L781.9 602.53 L785.04 602.58 L788.18 602.15 L791.32 602.91 L794.46 602.07 L797.6 602.26 L800.74 603.91 L803.88 605.1 L807.02 603.84 L810.16 602.66 L813.3 603.95 L816.44 604.06 L819.58 603.51 L822.72 603.8 L825.86 605.51 L829 606.22 L832.14 604.64 L835.28 604.24 L838.42 604.42 L841.56 606.38 L844.7 606.95 L847.84 605.49 L850.98 604.34 L854.12 605.32 L857.26 607.1 L860.4 606.72 L863.54 606.22 L866.68 606.67 L869.82 606.7 L872.96 607.07 L876.1 607.73 L879.24 607.77 L882.38 607.86 L885.52 607.98 L888.66 608.98 L891.8 608.02 L894.94 606.99 L898.08 607.94 L901.22 608.02 L904.36 607.19 L907.5 607.88 L910.64 608.52 L913.78 607.7 L916.92 607.38 L920.06 607.89 L923.2 609.39 L926.34 608.54 L929.48 607.21 L932.62 607.93 L935.76 608.29 L938.9 608.18 L942.04 608.29 L945.18 609.04 L948.32 609.24 L951.46 609.03 L954.6 608.99 L957.74 609.33 L960.88 608.67 L964.02 608.78 L967.16 608.8 L970.3 608.66 L973.44 608.86 L976.58 607.56 L979.72 607.67 L982.86 608.88 L986 608.99" fill="none" stroke="#00ffff" stroke-width="4.17" stroke-linejoin="round" stroke-linecap="butt"/><path d="M673.25 536.25 L675.14 537.28 L678.28 537.66 L681.42 536.57 L684.56 536.46 L687.7 536.47 L690.84 535.76 L693.98 535.34 L697.12 535.21 L700.26 535.27 L703.4 533.91 L706.54 532.22 L709.68 530.18 L712.82 528.31 L715.96 526.23 L719.1 524.99 L722.24 523.05 L725.38 521.15 L728.52 521.11 L731.66 520.72 L734.8 519.49 L737.94 519.18 L741.08 517.91 L744.22 518.88 L747.36 519.75 L750.5 518.92 L753.64 517.86 L756.78 514.97 L759.92 516.52 L763.06 517.53 L766.2 515.45 L769.34 515.44 L772.48 515.17 L775.62 516 L778.76 515.58 L781.9 513.87 L785.04 514.08 L788.18 514.37 L791.32 513.77 L794.46 513.47 L797.6 513.45 L800.74 513.21 L803.88 514.33 L807.02 513.81 L810.16 512.2 L813.3 511.51 L816.44 512.14 L819.58 512.6 L822.72 511.8 L825.86 511.72 L829 511.4 L832.14 510.4 L835.28 511.62 L838.42 513.83 L841.56 512.87 L844.7 510.98 L847.84 510.97 L850.98 511.39 L854.12 512.28 L857.26 513.15 L860.4 512.34 L863.54 512.48 L866.68 514.01 L869.82 514.12 L872.96 511.78 L876.1 510.22 L879.24 512.05 L882.38 513.59 L885.52 513.14 L888.66 513.21 L891.8 512.67 L894.94 512.36 L898.08 513.76 L901.22 513.04 L904.36 512.83 L907.5 513.49 L910.64 513.24 L913.78 513.6 L916.92 513.47 L920.06 513.74 L923.2 515.01 L926.34 515.89 L929.48 515.6 L932.62 514.83 L935.76 514.17 L938.9 513.75 L942.04 513.46 L945.18 513.46 L948.32 514.24 L951.46 514.74 L954.6 515.51 L957.74 515.24 L960.88 513.83 L964.02 513.47 L967.16 513.84 L970.3 514.27 L973.44 513.71 L976.58 513.64 L979.72 513.78 L982.86 513.5 L986 513.83" fill="none" stroke="#0000ff" stroke-width="4.17" stroke-linejoin="round" stroke-linecap="butt" stroke-dasharray="15.43 6.67"/><path d="M673.25 458.5 L675.14 459.52 L678.28 460.41 L681.42 460.51 L684.56 460.72 L687.7 459.37 L690.84 457.91 L693.98 458.73 L697.12 459.36 L700.26 458.69 L703.4 458.52 L706.54 458.47 L709.68 459.59 L712.82 460.58 L715.96 459.59 L719.1 458.4 L722.24 458.56 L725.38 456.19 L728.52 449.19 L731.66 441.82 L734.8 441.7 L737.94 440.1 L741.08 439.57 L744.22 440 L747.36 438.04 L750.5 437 L753.64 437.61 L756.78 438.21 L759.92 437.77 L763.06 436.13 L766.2 435.61 L769.34 435.62 L772.48 435.72 L775.62 435.94 L778.76 435.91 L781.9 435.76 L785.04 434.73 L788.18 435.57 L791.32 436.14 L794.46 435.02 L797.6 435.1 L800.74 435.22 L803.88 434.27 L807.02 432.79 L810.16 432.68 L813.3 433.42 L816.44 434.44 L819.58 433.35 L822.72 432.49 L825.86 433.62 L829 434.33 L832.14 434.39 L835.28 434.41 L838.42 434.39 L841.56 433.56 L844.7 433.62 L847.84 433.77 L850.98 434.3 L854.12 433.71 L857.26 433.64 L860.4 435.49 L863.54 435.31 L866.68 434.81 L869.82 435.35 L872.96 435.2 L876.1 434.56 L879.24 435.1 L882.38 435.42 L885.52 434.05 L888.66 433.68 L891.8 434.64 L894.94 435.03 L898.08 435.1 L901.22 435.28 L904.36 434.88 L907.5 434.99 L910.64 436.82 L913.78 436.86 L916.92 436.1 L920.06 435.81 L923.2 435.74 L926.34 436.07 L929.48 434.58 L932.62 435.3 L935.76 437.19 L938.9 437.45 L942.04 438.21 L945.18 438.52 L948.32 437.04 L951.46 436.41 L954.6 437.71 L957.74 438.23 L960.88 436.9 L964.02 436.56 L967.16 437.17 L970.3 436.61 L973.44 435.7 L976.58 434.86 L979.72 435.1 L982.86 436.15 L986 436.68" fill="none" stroke="#0000ff" stroke-width="4.17" stroke-linejoin="round" stroke-linecap="butt"/><path d="M673.25 512.37 L675.14 512.59 L678.28 513.79 L681.42 514.36 L684.56 514.05 L687.7 514.3 L690.84 514.76 L693.98 515.55 L697.12 515.6 L700.26 515.74 L703.4 514.79 L706.54 512.47 L709.68 510.74 L712.82 507.18 L715.96 502.93 L719.1 501.69 L722.24 498.08 L725.38 493.48 L728.52 490.28 L731.66 490.93 L734.8 491.42 L737.94 490.14 L741.08 489.96 L744.22 489.74 L747.36 488.91 L750.5 489.48 L753.64 490.4 L756.78 489.98 L759.92 489.24 L763.06 488.44 L766.2 487.57 L769.34 486.79 L772.48 486.69 L775.62 486.92 L778.76 486.89 L781.9 485.69 L785.04 484.73 L788.18 484.91 L791.32 485.22 L794.46 484.12 L797.6 483.98 L800.74 484.19 L803.88 482.93 L807.02 483.15 L810.16 483.04 L813.3 483.22 L816.44 483.18 L819.58 482.51 L822.72 484.02 L825.86 483.82 L829 483.5 L832.14 483.22 L835.28 483.16 L838.42 484.03 L841.56 483.56 L844.7 483.72 L847.84 483.79 L850.98 483.98 L854.12 483.81 L857.26 483.56 L860.4 483.88 L863.54 485.48 L866.68 485.02 L869.82 483.62 L872.96 485.4 L876.1 485.52 L879.24 484.41 L882.38 484.02 L885.52 485.03 L888.66 484.92 L891.8 484.55 L894.94 484.23 L898.08 484.37 L901.22 485.48 L904.36 485.75 L907.5 486.9 L910.64 486.23 L913.78 485.25 L916.92 485.16 L920.06 485.33 L923.2 486.66 L926.34 488.14 L929.48 488.27 L932.62 487.8 L935.76 487.97 L938.9 487.35 L942.04 486.79 L945.18 487.35 L948.32 487.52 L951.46 487.53 L954.6 487.59 L957.74 487.17 L960.88 486.83 L964.02 487.71 L967.16 489.17 L970.3 488.07 L973.44 487.25 L976.58 487.51 L979.72 488.57 L982.86 489.45 L986 488.6" fill="none" stroke="#0000ff" stroke-width="4.17" stroke-linejoin="round" stroke-linecap="butt"/><path d="M673.25 520.2 L675.14 519.72 L678.28 518.57 L681.42 517.73 L684.56 517.3 L687.7 518.43 L690.84 520.15 L693.98 519.43 L697.12 518.18 L700.26 518.42 L703.4 519.72 L706.54 517.47 L709.68 514.12 L712.82 512.06 L715.96 510.59 L719.1 508.54 L722.24 505.64 L725.38 503.94 L728.52 504.14 L731.66 503.18 L734.8 501.42 L737.94 501.13 L741.08 500.44 L744.22 500.31 L747.36 500.39 L750.5 499.77 L753.64 498.94 L756.78 497.42 L759.92 497.41 L763.06 496.69 L766.2 495.24 L769.34 495.6 L772.48 495.79 L775.62 494.91 L778.76 494.99 L781.9 495.7 L785.04 495.86 L788.18 495.19 L791.32 493.51 L794.46 493.14 L797.6 493.31 L800.74 493.38 L803.88 493.19 L807.02 493.53 L810.16 492.7 L813.3 491.8 L816.44 493.06 L819.58 493.31 L822.72 493.21 L825.86 492.37 L829 491.39 L832.14 492.68 L835.28 492.81 L838.42 491.62 L841.56 492.52 L844.7 493.9 L847.84 494.05 L850.98 493.64 L854.12 493.09 L857.26 493 L860.4 494.38 L863.54 494.11 L866.68 493.89 L869.82 493.66 L872.96 493.62 L876.1 494.65 L879.24 494.59 L882.38 494.65 L885.52 493.59 L888.66 492.96 L891.8 493.49 L894.94 493.92 L898.08 495.26 L901.22 495.87 L904.36 495.46 L907.5 495.85 L910.64 495.4 L913.78 495.41 L916.92 496.23 L920.06 496.54 L923.2 497.43 L926.34 496.59 L929.48 494.78 L932.62 495.09 L935.76 496.45 L938.9 498.13 L942.04 497.57 L945.18 495.46 L948.32 495.47 L951.46 495.71 L954.6 495.13 L957.74 495.09 L960.88 496.24 L964.02 496.35 L967.16 495.75 L970.3 497.27 L973.44 498 L976.58 498.02 L979.72 497.93 L982.86 496.89 L986 497.5" fill="none" stroke="#0000ff" stroke-width="4.17" stroke-linejoin="round" stroke-linecap="butt"/><path d="M673.25 470.5 L675.14 468.64 L678.28 467.29 L681.42 467.2 L684.56 468.15 L687.7 468.38 L690.84 466.5 L693.98 465.97 L697.12 467.25 L700.26 468.22 L703.4 468.2 L706.54 467.79 L709.68 467.14 L712.82 467.65 L715.96 468.99 L719.1 468.63 L722.24 468.14 L725.38 462.1 L728.52 455.29 L731.66 448.34 L734.8 447.35 L737.94 448 L741.08 447.93 L744.22 446.19 L747.36 446.18 L750.5 446.41 L753.64 444.94 L756.78 443.98 L759.92 443.85 L763.06 444.77 L766.2 445.26 L769.34 444.04 L772.48 442.77 L775.62 441.15 L778.76 441.5 L781.9 441.93 L785.04 440.68 L788.18 441.9 L791.32 442.43 L794.46 441.07 L797.6 440.54 L800.74 440.37 L803.88 439.49 L807.02 439.51 L810.16 439.16 L813.3 438.72 L816.44 439.35 L819.58 438.76 L822.72 438.85 L825.86 439.05 L829 437.91 L832.14 438.12 L835.28 439.16 L838.42 438.83 L841.56 439.02 L844.7 438.9 L847.84 439.47 L850.98 439.8 L854.12 439.44 L857.26 440.29 L860.4 439.09 L863.54 439.19 L866.68 439.26 L869.82 438.58 L872.96 438.91 L876.1 439.98 L879.24 440.28 L882.38 439.08 L885.52 439.97 L888.66 441.01 L891.8 439.74 L894.94 439.73 L898.08 441.49 L901.22 442.1 L904.36 441.77 L907.5 441.4 L910.64 441.71 L913.78 441.09 L916.92 441.53 L920.06 442.38 L923.2 441.55 L926.34 442.46 L929.48 442.78 L932.62 441.28 L935.76 442.7 L938.9 444.42 L942.04 444.33 L945.18 444.83 L948.32 444.08 L951.46 444.18 L954.6 444.24 L957.74 442.48 L960.88 443.74 L964.02 444.81 L967.16 445.07 L970.3 444.54 L973.44 443.97 L976.58 444.64 L979.72 444.28 L982.86 443.92 L986 444.23" fill="none" stroke="#00ffff" stroke-width="4.17" stroke-linejoin="round" stroke-linecap="butt"/><path d="M673.25 495.06 L675.14 495.36 L678.28 495.28 L681.42 495.6 L684.56 495.6 L687.7 496 L690.84 496.28 L693.98 494.12 L697.12 493.78 L700.26 495.52 L703.4 495.4 L706.54 495.21 L709.68 496.25 L712.82 495.81 L715.96 491.97 L719.1 488.84 L722.24 486.8 L725.38 485.02 L728.52 483.06 L731.66 479.29 L734.8 477.93 L737.94 478.58 L741.08 479.27 L744.22 478.88 L747.36 475.7 L750.5 474.95 L753.64 475.74 L756.78 474.36 L759.92 473.78 L763.06 473.43 L766.2 473.48 L769.34 473.56 L772.48 471.51 L775.62 471 L778.76 471.12 L781.9 471.29 L785.04 471.57 L788.18 470.13 L791.32 469.06 L794.46 469.48 L797.6 469.38 L800.74 468.19 L803.88 468.58 L807.02 468.18 L810.16 467.93 L813.3 468.29 L816.44 467.84 L819.58 468.96 L822.72 469.05 L825.86 468.15 L829 468.95 L832.14 468.67 L835.28 467.48 L838.42 467.51 L841.56 467.28 L844.7 467.75 L847.84 469.23 L850.98 467.77 L854.12 466.86 L857.26 467.24 L860.4 467.97 L863.54 468.1 L866.68 467.54 L869.82 467.73 L872.96 467.97 L876.1 467.77 L879.24 468.26 L882.38 469.57 L885.52 470.14 L888.66 469.07 L891.8 468.77 L894.94 470.11 L898.08 470.33 L901.22 470.1 L904.36 470.4 L907.5 470.42 L910.64 470.17 L913.78 470.42 L916.92 470.72 L920.06 470.5 L923.2 470.33 L926.34 470.35 L929.48 470.01 L932.62 469.95 L935.76 471.36 L938.9 471.91 L942.04 471.19 L945.18 470.52 L948.32 471.02 L951.46 471.9 L954.6 471.25 L957.74 471.1 L960.88 470.44 L964.02 470.56 L967.16 470.63 L970.3 471.26 L973.44 472.86 L976.58 471.43 L979.72 470.24 L982.86 470.7 L986 470.94" fill="none" stroke="#00ffff" stroke-width="4.17" stroke-linejoin="round" stroke-linecap="butt"/><path d="M673.25 519.61 L675.14 520.6 L678.28 520.41 L681.42 520.09 L684.56 520.14 L687.7 519.86 L690.84 521.57 L693.98 522.41 L697.12 520.75 L700.26 520.17 L703.4 520.93 L706.54 518.2 L709.68 515.71 L712.82 513.63 L715.96 510.82 L719.1 507.93 L722.24 504.63 L725.38 502.17 L728.52 499.96 L731.66 498.49 L734.8 498.09 L737.94 498.02 L741.08 498.41 L744.22 498.43 L747.36 498.1 L750.5 498.09 L753.64 497.56 L756.78 497.02 L759.92 495.58 L763.06 494.43 L766.2 495.1 L769.34 496.21 L772.48 495.73 L775.62 494.64 L778.76 494.96 L781.9 495.1 L785.04 495.49 L788.18 494.28 L791.32 492.81 L794.46 491.43 L797.6 491.16 L800.74 492.42 L803.88 491.34 L807.02 490.92 L810.16 491.38 L813.3 491.4 L816.44 491.85 L819.58 490.83 L822.72 489.95 L825.86 489.85 L829 490.62 L832.14 491.58 L835.28 491.9 L838.42 491.39 L841.56 491.7 L844.7 491.94 L847.84 490.58 L850.98 490.12 L854.12 491.28 L857.26 491.47 L860.4 491.37 L863.54 492.42 L866.68 492.77 L869.82 491.76 L872.96 490.15 L876.1 491.17 L879.24 492.55 L882.38 492.46 L885.52 490.68 L888.66 489.98 L891.8 491.73 L894.94 493.33 L898.08 493.45 L901.22 491.83 L904.36 490.47 L907.5 491.32 L910.64 492.79 L913.78 492.97 L916.92 493.68 L920.06 492.94 L923.2 492.54 L926.34 492.48 L929.48 492.85 L932.62 494.17 L935.76 493.09 L938.9 492.83 L942.04 492.58 L945.18 492.18 L948.32 493.29 L951.46 492.97 L954.6 491.87 L957.74 493.31 L960.88 492.79 L964.02 491.47 L967.16 492.09 L970.3 493.43 L973.44 494.27 L976.58 493.46 L979.72 492.48 L982.86 493.13 L986 494.24" fill="none" stroke="#0000ff" stroke-width="4.17" stroke-linejoin="round" stroke-linecap="butt" stroke-dasharray="15.43 6.67"/><path d="M673.25 541.49 L675.14 540.53 L678.28 539.26 L681.42 540.13 L684.56 540.71 L687.7 539.54 L690.84 538.39 L693.98 538.36 L697.12 539.47 L700.26 540.56 L703.4 538.29 L706.54 535.39 L709.68 532.17 L712.82 529.21 L715.96 525.74 L719.1 522.94 L722.24 521.85 L725.38 520.62 L728.52 519.26 L731.66 519.82 L734.8 520.51 L737.94 521.37 L741.08 521.3 L744.22 519.51 L747.36 519.15 L750.5 520.15 L753.64 519.35 L756.78 518.24 L759.92 517.77 L763.06 517.31 L766.2 516.62 L769.34 517.26 L772.48 517.32 L775.62 517.22 L778.76 517.19 L781.9 516.35 L785.04 516.42 L788.18 515.79 L791.32 515.75 L794.46 515.49 L797.6 514.8 L800.74 515.16 L803.88 515.78 L807.02 516.09 L810.16 515.88 L813.3 515.39 L816.44 515.14 L819.58 513.4 L822.72 513.06 L825.86 514.32 L829 515.19 L832.14 516.04 L835.28 515.77 L838.42 515.3 L841.56 515.73 L844.7 514.97 L847.84 514.73 L850.98 515.06 L854.12 516.08 L857.26 516.71 L860.4 515.29 L863.54 515.21 L866.68 515.06 L869.82 515.08 L872.96 515.4 L876.1 516.68 L879.24 517.24 L882.38 517.56 L885.52 516.88 L888.66 515.48 L891.8 516.01 L894.94 516.71 L898.08 517 L901.22 515.59 L904.36 514.37 L907.5 515.5 L910.64 515.82 L913.78 516.74 L916.92 518.61 L920.06 518.07 L923.2 517.55 L926.34 517.63 L929.48 517.08 L932.62 515.12 L935.76 515.63 L938.9 517.33 L942.04 516.84 L945.18 516.93 L948.32 516.6 L951.46 515.63 L954.6 516.88 L957.74 517.82 L960.88 517.31 L964.02 517.25 L967.16 517.99 L970.3 519.2 L973.44 519.68 L976.58 518.45 L979.72 517.09 L982.86 517.38 L986 518.84" fill="none" stroke="#00ffff" stroke-width="4.17" stroke-linejoin="round" stroke-linecap="butt"/><path d="M673.25 464.55 L675.14 464.74 L678.28 465.28 L681.42 465.34 L684.56 464.13 L687.7 463.28 L690.84 463.65 L693.98 463.63 L697.12 463.92 L700.26 464.13 L703.4 463.74 L706.54 463.44 L709.68 463.46 L712.82 463.82 L715.96 463.82 L719.1 464.06 L722.24 462.71 L725.38 458.42 L728.52 452.17 L731.66 443.92 L734.8 442.98 L737.94 444.72 L741.08 444.72 L744.22 442.98 L747.36 441.92 L750.5 441.26 L753.64 441.48 L756.78 442.46 L759.92 442.98 L763.06 441.77 L766.2 440.61 L769.34 441.13 L772.48 441.43 L775.62 440.89 L778.76 440.45 L781.9 439.85 L785.04 439.85 L788.18 440.53 L791.32 439.48 L794.46 437.71 L797.6 438.27 L800.74 438.39 L803.88 437.89 L807.02 437.9 L810.16 437.69 L813.3 438.28 L816.44 438.04 L819.58 436.86 L822.72 437.72 L825.86 437.23 L829 435.61 L832.14 435.73 L835.28 435.83 L838.42 436.47 L841.56 437.81 L844.7 438.6 L847.84 438.91 L850.98 438.55 L854.12 438.16 L857.26 437.89 L860.4 439.04 L863.54 438.21 L866.68 435.9 L869.82 437.29 L872.96 438.26 L876.1 438.06 L879.24 438.37 L882.38 438.83 L885.52 439.13 L888.66 439.56 L891.8 439.47 L894.94 439.11 L898.08 439.11 L901.22 439.66 L904.36 439.9 L907.5 439.48 L910.64 439.25 L913.78 439.95 L916.92 440.13 L920.06 439.08 L923.2 439.06 L926.34 439.87 L929.48 440.53 L932.62 440.51 L935.76 439.88 L938.9 438.94 L942.04 439.49 L945.18 440.77 L948.32 440.53 L951.46 440.11 L954.6 440.88 L957.74 441.46 L960.88 441.07 L964.02 440.34 L967.16 441 L970.3 441.99 L973.44 441.11 L976.58 441.28 L979.72 441.55 L982.86 440.73 L986 440.9" fill="none" stroke="#0000ff" stroke-width="4.17" stroke-linejoin="round" stroke-linecap="butt"/><path d="M673.25 562.72 L675.14 562.25 L678.28 561.98 L681.42 561.87 L684.56 562.26 L687.7 561.95 L690.84 562.53 L693.98 563.34 L697.12 562.51 L700.26 561.99 L703.4 558.26 L706.54 554.43 L709.68 550.33 L712.82 546.16 L715.96 540.81 L719.1 537.37 L722.24 537.91 L725.38 538.01 L728.52 537.53 L731.66 536.15 L734.8 536.49 L737.94 537.6 L741.08 537.21 L744.22 535.75 L747.36 535.18 L750.5 535.18 L753.64 536.62 L756.78 537.26 L759.92 535.26 L763.06 535.38 L766.2 535.35 L769.34 533.45 L772.48 533.47 L775.62 533.72 L778.76 534.15 L781.9 535.28 L785.04 534.98 L788.18 534.23 L791.32 534.02 L794.46 533.35 L797.6 533.22 L800.74 533.33 L803.88 532.84 L807.02 532.77 L810.16 531.8 L813.3 531.38 L816.44 532.39 L819.58 532.79 L822.72 533.22 L825.86 532.39 L829 531.99 L832.14 533.37 L835.28 533.8 L838.42 533.31 L841.56 533.28 L844.7 532.64 L847.84 533.07 L850.98 533.44 L854.12 532.75 L857.26 533.71 L860.4 533.8 L863.54 533.23 L866.68 533.01 L869.82 533.29 L872.96 533.48 L876.1 534.24 L879.24 535.1 L882.38 533.81 L885.52 532.71 L888.66 533.24 L891.8 534.23 L894.94 533.71 L898.08 534.62 L901.22 535.75 L904.36 534.29 L907.5 533.57 L910.64 534.6 L913.78 536.09 L916.92 534.79 L920.06 533.74 L923.2 535.13 L926.34 535.23 L929.48 534.27 L932.62 535.79 L935.76 535.72 L938.9 533.91 L942.04 535.73 L945.18 535.75 L948.32 535.63 L951.46 535.47 L954.6 534.3 L957.74 533.73 L960.88 534.33 L964.02 535.63 L967.16 534.75 L970.3 535.15 L973.44 536.17 L976.58 536.07 L979.72 535.76 L982.86 536.2 L986 535.93" fill="none" stroke="#00ffff" stroke-width="4.17" stroke-linejoin="round" stroke-linecap="butt"/><path d="M673.25 500.91 L675.14 501.2 L678.28 500.59 L681.42 500.86 L684.56 501.12 L687.7 501.28 L690.84 501.63 L693.98 502.44 L697.12 502.8 L700.26 501.86 L703.4 502.29 L706.54 502.57 L709.68 502.53 L712.82 500.17 L715.96 498.42 L719.1 495.57 L722.24 491.88 L725.38 489.06 L728.52 486.56 L731.66 484.07 L734.8 482.55 L737.94 482.13 L741.08 482.35 L744.22 480.96 L747.36 479.66 L750.5 479.41 L753.64 478.82 L756.78 479.03 L759.92 479.26 L763.06 477.97 L766.2 477.71 L769.34 478.11 L772.48 477.3 L775.62 476.73 L778.76 476.81 L781.9 476.18 L785.04 475.83 L788.18 475.68 L791.32 474.7 L794.46 474.44 L797.6 474.34 L800.74 475.06 L803.88 475.91 L807.02 475.32 L810.16 474.03 L813.3 472.56 L816.44 473.55 L819.58 474.26 L822.72 474.1 L825.86 474.72 L829 474.44 L832.14 473.69 L835.28 473.46 L838.42 473.23 L841.56 473.94 L844.7 474.15 L847.84 473.12 L850.98 473.62 L854.12 473.92 L857.26 474.31 L860.4 475.23 L863.54 475.18 L866.68 474.98 L869.82 473.25 L872.96 473.26 L876.1 474.05 L879.24 473.77 L882.38 474.62 L885.52 474.42 L888.66 475.13 L891.8 475.13 L894.94 474.59 L898.08 476.05 L901.22 476.02 L904.36 474.97 L907.5 475.16 L910.64 474.68 L913.78 475.27 L916.92 475.97 L920.06 475.42 L923.2 476.31 L926.34 476.11 L929.48 476.48 L932.62 477.92 L935.76 476.88 L938.9 476.82 L942.04 477.23 L945.18 477.59 L948.32 477.54 L951.46 477.31 L954.6 477.22 L957.74 477.49 L960.88 477.49 L964.02 476.84 L967.16 477.11 L970.3 477.05 L973.44 477.07 L976.58 477.82 L979.72 479.38 L982.86 478.68 L986 477.83" fill="none" stroke="#0000ff" stroke-width="4.17" stroke-linejoin="round" stroke-linecap="butt" stroke-dasharray="15.43 6.67"/><path d="M673.25 550.21 L675.14 549.66 L678.28 550.41 L681.42 550.98 L684.56 550.11 L687.7 550.18 L690.84 549.56 L693.98 548.95 L697.12 549.49 L700.26 549.86 L703.4 546.2 L706.54 543.27 L709.68 540.64 L712.82 537.27 L715.96 535.9 L719.1 534 L722.24 530.65 L725.38 529.42 L728.52 528.55 L731.66 527.86 L734.8 527.28 L737.94 527.49 L741.08 527.75 L744.22 526.67 L747.36 526.35 L750.5 525.76 L753.64 525.97 L756.78 525.75 L759.92 524.53 L763.06 525.55 L766.2 524.47 L769.34 522.9 L772.48 523.13 L775.62 523.61 L778.76 523.58 L781.9 521.84 L785.04 521.74 L788.18 524.21 L791.32 523.93 L794.46 522.36 L797.6 521.66 L800.74 520.91 L803.88 521.05 L807.02 520.99 L810.16 519.6 L813.3 519.64 L816.44 519.17 L819.58 518.7 L822.72 520.44 L825.86 519.73 L829 518.84 L832.14 519.9 L835.28 519.83 L838.42 520.31 L841.56 521.27 L844.7 519.66 L847.84 519.32 L850.98 520.71 L854.12 520.31 L857.26 519.11 L860.4 519.45 L863.54 521 L866.68 521.21 L869.82 520.06 L872.96 519.52 L876.1 518.81 L879.24 519.46 L882.38 520.84 L885.52 520.8 L888.66 519.95 L891.8 520.53 L894.94 520.56 L898.08 521.65 L901.22 522.01 L904.36 520.94 L907.5 521.22 L910.64 520.54 L913.78 521.54 L916.92 522.05 L920.06 521.34 L923.2 521.05 L926.34 521.75 L929.48 522.67 L932.62 523.27 L935.76 521.35 L938.9 520.43 L942.04 522.01 L945.18 522.78 L948.32 522.18 L951.46 521.69 L954.6 521.46 L957.74 520.73 L960.88 521.56 L964.02 521.68 L967.16 522.35 L970.3 522.98 L973.44 522.73 L976.58 523.3 L979.72 523.01 L982.86 522.43 L986 521.69" fill="none" stroke="#0000ff" stroke-width="4.17" stroke-linejoin="round" stroke-linecap="butt"/><path d="M673.25 528.91 L675.14 527.38 L678.28 525.96 L681.42 525.78 L684.56 524.97 L687.7 524.43 L690.84 524.58 L693.98 525.01 L697.12 524.69 L700.26 524.16 L703.4 523.88 L706.54 521.84 L709.68 519.19 L712.82 517.32 L715.96 514.09 L719.1 511.01 L722.24 508.65 L725.38 506.78 L728.52 506.57 L731.66 506.28 L734.8 505.65 L737.94 504.45 L741.08 503.37 L744.22 502.74 L747.36 503.86 L750.5 504.51 L753.64 504.27 L756.78 503.53 L759.92 501.6 L763.06 501.07 L766.2 503.08 L769.34 503.88 L772.48 503.08 L775.62 501.8 L778.76 500.78 L781.9 500.61 L785.04 499.32 L788.18 499.65 L791.32 500.82 L794.46 498.97 L797.6 498.02 L800.74 499.25 L803.88 500.27 L807.02 500.39 L810.16 500.33 L813.3 499.15 L816.44 497.83 L819.58 497.38 L822.72 497.56 L825.86 498.56 L829 498.97 L832.14 497.59 L835.28 498.23 L838.42 499.26 L841.56 498.34 L844.7 498.16 L847.84 498.47 L850.98 498.6 L854.12 497.99 L857.26 498.42 L860.4 499.2 L863.54 499.29 L866.68 499.64 L869.82 499.82 L872.96 499.61 L876.1 499.54 L879.24 498.8 L882.38 498.35 L885.52 499.5 L888.66 500.06 L891.8 499.81 L894.94 499.89 L898.08 500.2 L901.22 500.64 L904.36 501.08 L907.5 501.83 L910.64 501.24 L913.78 500.25 L916.92 500.53 L920.06 501.17 L923.2 501.56 L926.34 502.14 L929.48 503.37 L932.62 502.83 L935.76 501.82 L938.9 502.59 L942.04 503.32 L945.18 502.39 L948.32 502.95 L951.46 502.77 L954.6 501.49 L957.74 501.24 L960.88 502.09 L964.02 503.51 L967.16 503.48 L970.3 503.47 L973.44 503.39 L976.58 503.98 L979.72 503.35 L982.86 503.46 L986 504.43" fill="none" stroke="#0000ff" stroke-width="4.17" stroke-linejoin="round" stroke-linecap="butt" stroke-dasharray="15.43 6.67"/><path d="M673.25 508.03 L675.14 508.61 L678.28 509.12 L681.42 508.58 L684.56 508.5 L687.7 509.35 L690.84 509.16 L693.98 508.55 L697.12 507.5 L700.26 507.95 L703.4 508.31 L706.54 508.1 L709.68 507.14 L712.82 504.51 L715.96 501.79 L719.1 498.76 L722.24 495.56 L725.38 494.02 L728.52 491.89 L731.66 489.37 L734.8 488.92 L737.94 489.15 L741.08 488.36 L744.22 487.25 L747.36 486.81 L750.5 486.16 L753.64 485.24 L756.78 483.72 L759.92 482.72 L763.06 482.71 L766.2 482.04 L769.34 480.68 L772.48 481.31 L775.62 480.85 L778.76 480.63 L781.9 480.7 L785.04 479.19 L788.18 478.22 L791.32 477.95 L794.46 478.6 L797.6 478.76 L800.74 478.74 L803.88 477.43 L807.02 476.42 L810.16 476.8 L813.3 475.93 L816.44 476.02 L819.58 476.62 L822.72 476.51 L825.86 475.41 L829 474.41 L832.14 475.48 L835.28 477.23 L838.42 477.05 L841.56 476.2 L844.7 476.22 L847.84 476.01 L850.98 476.45 L854.12 476.31 L857.26 475.73 L860.4 476.19 L863.54 476.94 L866.68 477.39 L869.82 476.93 L872.96 477.42 L876.1 478.04 L879.24 478 L882.38 478.83 L885.52 478.23 L888.66 477.61 L891.8 478.08 L894.94 477.73 L898.08 478.73 L901.22 479.4 L904.36 478.55 L907.5 478.2 L910.64 479.12 L913.78 479.33 L916.92 478.75 L920.06 478.54 L923.2 478.18 L926.34 478.71 L929.48 478.23 L932.62 478.61 L935.76 480.13 L938.9 480.4 L942.04 480.76 L945.18 480.67 L948.32 481.27 L951.46 481.38 L954.6 480.18 L957.74 479.66 L960.88 480.17 L964.02 480.03 L967.16 480.28 L970.3 481.21 L973.44 481.97 L976.58 482.4 L979.72 481.88 L982.86 480.72 L986 480.07" fill="none" stroke="#0000ff" stroke-width="4.17" stroke-linejoin="round" stroke-linecap="butt"/><path d="M706.54 570.89 L709.68 568.53 L712.82 566.12 L715.96 564.89 L719.1 563.5 L722.24 561.9 L725.38 560.57 L728.52 559.73 L731.66 559.53 L734.8 557.92 L737.94 557.14 L741.08 558.04 L744.22 559.28 L747.36 559.29 L750.5 558.44 L753.64 558.19 L756.78 559.04 L759.92 559.09 L763.06 558.93 L766.2 558.9 L769.34 559.06 L772.48 560.18 L775.62 559.98 L778.76 558.82 L781.9 559.5 L785.04 560.02 L788.18 558.99 L791.32 559.19 L794.46 560.19 L797.6 559.07 L800.74 558.44 L803.88 559.16 L807.02 560.3 L810.16 560.15 L813.3 560.71 L816.44 562.05 L819.58 560.93 L822.72 560.11 L825.86 561.19 L829 562.44 L832.14 562.01 L835.28 562.87 L838.42 562.81 L841.56 561.64 L844.7 562.4 L847.84 562.59 L850.98 562.11 L854.12 562.41 L857.26 562.72 L860.4 562.25 L863.54 562.96 L866.68 563.87 L869.82 564.07 L872.96 563.78 L876.1 563.89 L879.24 564.37 L882.38 564.09 L885.52 564.31 L888.66 563.47 L891.8 563.55 L894.94 563.72 L898.08 563.24 L901.22 563.3 L904.36 563.84 L907.5 564.06 L910.64 563.57 L913.78 564.4 L916.92 564.67 L920.06 564.42 L923.2 564.59 L926.34 563.82 L929.48 564.2 L932.62 565.81 L935.76 566.37 L938.9 565.71 L942.04 565.13 L945.18 564.88 L948.32 564.24 L951.46 563.31 L954.6 563.45 L957.74 564.16 L960.88 564.72 L964.02 564.67 L967.16 563.55 L970.3 563.15 L973.44 564.93 L976.58 565.18 L979.72 563.29 L982.86 563.33 L986 564.99" fill="none" stroke="#0000ff" stroke-width="4.17" stroke-linejoin="round" stroke-linecap="butt" stroke-dasharray="15.43 6.67"/><path d="M673.25 571.12 L675.14 570.6 L678.28 570.15 L681.42 570.83 L684.56 571.47 L687.7 570.45 L690.84 570.63 L693.98 570.31 L697.12 569.52 L700.26 570.06 L703.4 567.25 L706.54 564.2 L709.68 559.58 L712.82 556.51 L715.96 552.23 L719.1 548.66 L722.24 549.09 L725.38 546.98 L728.52 544.73 L731.66 543.03 L734.8 542.15 L737.94 541.33 L741.08 539.92 L744.22 538.78 L747.36 540.04 L750.5 539.21 L753.64 537.7 L756.78 538.13 L759.92 538.6 L763.06 538.55 L766.2 538.22 L769.34 538.4 L772.48 537.8 L775.62 538.68 L778.76 539.14 L781.9 538.78 L785.04 539.09 L788.18 537.72 L791.32 538.13 L794.46 538.98 L797.6 538.72 L800.74 538.23 L803.88 538.51 L807.02 539.99 L810.16 539.26 L813.3 538.62 L816.44 539.14 L819.58 538.45 L822.72 538.82 L825.86 539.67 L829 539.19 L832.14 538.84 L835.28 539.27 L838.42 539.01 L841.56 537.6 L844.7 538.45 L847.84 538.72 L850.98 539.7 L854.12 540.02 L857.26 539.15 L860.4 539.9 L863.54 539.97 L866.68 540.45 L869.82 541.03 L872.96 540.97 L876.1 539.66 L879.24 538.92 L882.38 539.91 L885.52 540.91 L888.66 541.22 L891.8 541.69 L894.94 540.46 L898.08 539.58 L901.22 540.59 L904.36 541.32 L907.5 542.05 L910.64 541.19 L913.78 540.34 L916.92 541.67 L920.06 541.67 L923.2 541.87 L926.34 542.16 L929.48 542.2 L932.62 542.88 L935.76 542.21 L938.9 541.87 L942.04 541.71 L945.18 542.5 L948.32 542.31 L951.46 541.26 L954.6 542.22 L957.74 542.81 L960.88 543.33 L964.02 543.77 L967.16 544.17 L970.3 544.16 L973.44 543.46 L976.58 542.9 L979.72 542.62 L982.86 543.01 L986 543.82" fill="none" stroke="#0000ff" stroke-width="4.17" stroke-linejoin="round" stroke-linecap="butt"/><path d="M673.25 487.12 L675.14 487.17 L678.28 486.92 L681.42 487.75 L684.56 487.43 L687.7 487.22 L690.84 487.89 L693.98 487.02 L697.12 487 L700.26 486.11 L703.4 485.86 L706.54 485.89 L709.68 485.2 L712.82 486.28 L715.96 486.17 L719.1 481.79 L722.24 478.76 L725.38 475.99 L728.52 472.69 L731.66 469.29 L734.8 468.45 L737.94 467.71 L741.08 466.26 L744.22 464.83 L747.36 464.57 L750.5 464.48 L753.64 463.37 L756.78 462.91 L759.92 463.2 L763.06 461.73 L766.2 460.94 L769.34 460.63 L772.48 460.24 L775.62 459.36 L778.76 459 L781.9 459.12 L785.04 457.36 L788.18 457.92 L791.32 457.53 L794.46 457.05 L797.6 458.38 L800.74 457.15 L803.88 455.43 L807.02 455.52 L810.16 456.85 L813.3 456.36 L816.44 455.23 L819.58 455.46 L822.72 455.5 L825.86 456.31 L829 456.51 L832.14 454.65 L835.28 453.57 L838.42 454.78 L841.56 456.04 L844.7 455.69 L847.84 454.79 L850.98 454.67 L854.12 455.92 L857.26 456.27 L860.4 455.62 L863.54 454.99 L866.68 454.48 L869.82 455.1 L872.96 455.21 L876.1 455.83 L879.24 455.78 L882.38 455.93 L885.52 456.66 L888.66 456.07 L891.8 456.89 L894.94 457.89 L898.08 458.46 L901.22 458.12 L904.36 457.34 L907.5 457.73 L910.64 457.56 L913.78 458.64 L916.92 459.05 L920.06 457.99 L923.2 458.25 L926.34 457.94 L929.48 456.93 L932.62 457.66 L935.76 459.17 L938.9 459.32 L942.04 458.83 L945.18 458.27 L948.32 458.84 L951.46 458.69 L954.6 458.85 L957.74 459.01 L960.88 458.3 L964.02 458.56 L967.16 457.7 L970.3 458.16 L973.44 459.47 L976.58 459.14 L979.72 458.66 L982.86 459.7 L986 460.08" fill="none" stroke="#00ffff" stroke-width="4.17" stroke-linejoin="round" stroke-linecap="butt"/><path d="M673.25 551.46 L675.14 550.76 L678.28 549.7 L681.42 550.07 L684.56 550.92 L687.7 550.91 L690.84 552.49 L693.98 552.24 L697.12 550.42 L700.26 550.81 L703.4 549.39 L706.54 547.93 L709.68 545.88 L712.82 542.9 L715.96 540.92 L719.1 538.92 L722.24 539.22 L725.38 539.68 L728.52 537.66 L731.66 536.91 L734.8 537.44 L737.94 537.29 L741.08 535.23 L744.22 535.06 L747.36 535.75 L750.5 535.14 L753.64 534.4 L756.78 532.97 L759.92 531.85 L763.06 532.77 L766.2 531.81 L769.34 530.71 L772.48 531.47 L775.62 529.93 L778.76 529.33 L781.9 530.55 L785.04 530.51 L788.18 529.91 L791.32 529.78 L794.46 529.23 L797.6 527.89 L800.74 527.2 L803.88 528.07 L807.02 526.44 L810.16 525.9 L813.3 526.99 L816.44 526.48 L819.58 526.16 L822.72 526.39 L825.86 526.58 L829 525.31 L832.14 525.53 L835.28 527.27 L838.42 527.17 L841.56 527.05 L844.7 527.46 L847.84 526.96 L850.98 526.61 L854.12 526.89 L857.26 526.65 L860.4 526.63 L863.54 527.81 L866.68 527.27 L869.82 526.84 L872.96 526.73 L876.1 526.96 L879.24 527.37 L882.38 526.93 L885.52 528.75 L888.66 529.79 L891.8 529.01 L894.94 527.54 L898.08 528.02 L901.22 528.35 L904.36 526.83 L907.5 527.13 L910.64 527.42 L913.78 528.03 L916.92 528.46 L920.06 528.15 L923.2 527.99 L926.34 527.77 L929.48 528.15 L932.62 528.94 L935.76 529.17 L938.9 528.61 L942.04 529.24 L945.18 530.17 L948.32 529.54 L951.46 529.2 L954.6 529.16 L957.74 530.33 L960.88 530.41 L964.02 529.16 L967.16 528.6 L970.3 529.56 L973.44 530.18 L976.58 528.91 L979.72 528.52 L982.86 528.17 L986 527.91" fill="none" stroke="#0000ff" stroke-width="4.17" stroke-linejoin="round" stroke-linecap="butt" stroke-dasharray="15.43 6.67"/><path d="M673.25 559.86 L675.14 558.94 L678.28 558.53 L681.42 559.28 L684.56 558.25 L687.7 558.13 L690.84 559.38 L693.98 559.24 L697.12 559.21 L700.26 558.43 L703.4 555.11 L706.54 552.24 L709.68 549.57 L712.82 547.99 L715.96 544.99 L719.1 542.35 L722.24 542.85 L725.38 542.29 L728.52 541.72 L731.66 540.69 L734.8 540.73 L737.94 540.88 L741.08 540.27 L744.22 540.83 L747.36 541.1 L750.5 540.24 L753.64 539.13 L756.78 538.54 L759.92 538.2 L763.06 538.04 L766.2 538.23 L769.34 537.8 L772.48 537.86 L775.62 538.58 L778.76 537.99 L781.9 537.8 L785.04 537.67 L788.18 537.07 L791.32 536.86 L794.46 536.25 L797.6 536.15 L800.74 536.12 L803.88 536.37 L807.02 535.84 L810.16 535.16 L813.3 534.79 L816.44 535.86 L819.58 536.54 L822.72 534.93 L825.86 535.84 L829 536.19 L832.14 534.87 L835.28 534.65 L838.42 535.54 L841.56 535.5 L844.7 534.65 L847.84 535.33 L850.98 535.04 L854.12 534.57 L857.26 535 L860.4 535.24 L863.54 534.99 L866.68 534.73 L869.82 534.49 L872.96 534.37 L876.1 535.39 L879.24 535.83 L882.38 535.08 L885.52 535.23 L888.66 535.59 L891.8 535.19 L894.94 535.57 L898.08 537.18 L901.22 537.09 L904.36 535.8 L907.5 535.87 L910.64 536.47 L913.78 535.97 L916.92 535.71 L920.06 536.77 L923.2 537.16 L926.34 536.67 L929.48 536.91 L932.62 537.68 L935.76 536.06 L938.9 534.86 L942.04 535.41 L945.18 535.42 L948.32 535.71 L951.46 537.39 L954.6 537.11 L957.74 535.57 L960.88 535.99 L964.02 537.75 L967.16 537.39 L970.3 535.64 L973.44 536.62 L976.58 537.32 L979.72 536.68 L982.86 536.84 L986 536.7" fill="none" stroke="#00ffff" stroke-width="4.17" stroke-linejoin="round" stroke-linecap="butt"/><path d="M673.25 520.41 L675.14 520.09 L678.28 520.11 L681.42 521.31 L684.56 521.91 L687.7 519.43 L690.84 518.77 L693.98 519.79 L697.12 519.35 L700.26 519.16 L703.4 519.19 L706.54 517.49 L709.68 514.82 L712.82 512.58 L715.96 509.74 L719.1 505.27 L722.24 503.38 L725.38 500.81 L728.52 496.99 L731.66 495.97 L734.8 496.51 L737.94 497.17 L741.08 497.27 L744.22 497.06 L747.36 495.35 L750.5 493.28 L753.64 493.77 L756.78 493.74 L759.92 492.48 L763.06 493.08 L766.2 491.72 L769.34 492.48 L772.48 493.37 L775.62 491.55 L778.76 490.03 L781.9 488.85 L785.04 488.44 L788.18 489.01 L791.32 489.37 L794.46 488.37 L797.6 488.29 L800.74 488.5 L803.88 488.54 L807.02 488.62 L810.16 488.86 L813.3 487.25 L816.44 486.89 L819.58 489.14 L822.72 488.83 L825.86 487.79 L829 487.91 L832.14 486.98 L835.28 487.2 L838.42 488.4 L841.56 488.81 L844.7 488.75 L847.84 488.66 L850.98 488.6 L854.12 486.75 L857.26 486.71 L860.4 488.94 L863.54 488.18 L866.68 487.32 L869.82 488.08 L872.96 488.33 L876.1 488.49 L879.24 488.68 L882.38 488.53 L885.52 488.51 L888.66 488.71 L891.8 489.69 L894.94 490.59 L898.08 490.88 L901.22 490.53 L904.36 489.85 L907.5 490.78 L910.64 491.08 L913.78 489.57 L916.92 489.39 L920.06 491.58 L923.2 492.46 L926.34 491.6 L929.48 491.66 L932.62 491.89 L935.76 491.32 L938.9 491.44 L942.04 492.76 L945.18 492.64 L948.32 492.19 L951.46 492.6 L954.6 492.95 L957.74 493.85 L960.88 494.31 L964.02 493.84 L967.16 493.83 L970.3 495.2 L973.44 494.09 L976.58 493.34 L979.72 494.44 L982.86 493.61 L986 494.62" fill="none" stroke="#0000ff" stroke-width="4.17" stroke-linejoin="round" stroke-linecap="butt"/><path d="M673.25 527.23 L675.14 528.44 L678.28 528.92 L681.42 528.88 L684.56 529.18 L687.7 528.98 L690.84 529.26 L693.98 530.42 L697.12 531.32 L700.26 530.47 L703.4 526.22 L706.54 523.8 L709.68 521.59 L712.82 518.51 L715.96 515.85 L719.1 512.71 L722.24 511.1 L725.38 509.26 L728.52 508.4 L731.66 508.58 L734.8 508.8 L737.94 508.91 L741.08 508.87 L744.22 508.89 L747.36 506.83 L750.5 505.17 L753.64 506.38 L756.78 506.76 L759.92 507.15 L763.06 508.92 L766.2 509.23 L769.34 507.53 L772.48 505.64 L775.62 505.62 L778.76 506.82 L781.9 506.81 L785.04 506.68 L788.18 507.19 L791.32 506.65 L794.46 505.99 L797.6 506.18 L800.74 506.32 L803.88 506.27 L807.02 505.54 L810.16 504.16 L813.3 504.28 L816.44 503.84 L819.58 504.63 L822.72 505.72 L825.86 505.5 L829 505.76 L832.14 505.1 L835.28 504.73 L838.42 504.2 L841.56 504.83 L844.7 506.14 L847.84 505.97 L850.98 505.16 L854.12 505.46 L857.26 505.16 L860.4 503.89 L863.54 505.17 L866.68 505.91 L869.82 504.65 L872.96 505.94 L876.1 506.44 L879.24 505.58 L882.38 506.52 L885.52 505.74 L888.66 504.91 L891.8 505.94 L894.94 505.88 L898.08 505.33 L901.22 505.21 L904.36 505.3 L907.5 505.56 L910.64 506.57 L913.78 507.08 L916.92 506.43 L920.06 507.76 L923.2 506.73 L926.34 505.46 L929.48 507.22 L932.62 508.04 L935.76 507.36 L938.9 506.39 L942.04 506.87 L945.18 507.15 L948.32 507.34 L951.46 507.55 L954.6 507.16 L957.74 507.13 L960.88 506.74 L964.02 506.5 L967.16 506.83 L970.3 506.56 L973.44 505.98 L976.58 505.9 L979.72 506.5 L982.86 506.95 L986 507.54" fill="none" stroke="#00ffff" stroke-width="4.17" stroke-linejoin="round" stroke-linecap="butt"/><path d="M681.42 612.28 L684.56 611.72 L687.7 611.41 L690.84 611.94 L693.98 612.75 L697.12 613.33 L700.26 612.39 L703.4 610.96 L706.54 610.96 L709.68 612.3 L712.82 612.65 L715.96 611.82 L719.1 612.24 L722.24 612.21 L725.38 611.42 L728.52 611.37 L731.66 612.82 L734.8 612.8 L737.94 612.27 L741.08 613.52 L744.22 614.59 L747.36 613.96 L750.5 613.41 L753.64 614.39 L756.78 614.18 L759.92 614.5 L763.06 616.27 L766.2 615.85 L769.34 615.68 L772.48 616.39 L775.62 616.57 L778.76 617.6 L781.9 618.57 L785.04 618.43 L788.18 617.33 L791.32 618.07 L794.46 618.11 L797.6 617.46 L800.74 618.81 L803.88 618.8 L807.02 617.9 L810.16 618.54 L813.3 620.02 L816.44 619.35 L819.58 618.81 L822.72 618.78 L825.86 619.23 L829 619.55 L832.14 618.97 L835.28 619.71 L838.42 619.41 L841.56 618.53 L844.7 618.72 L847.84 619.39 L850.98 618.91 L854.12 619.16 L857.26 618.92 L860.4 617.65 L863.54 616.97 L866.68 616.7 L869.82 617.36 L872.96 617.63 L876.1 617.75 L879.24 618.55 L882.38 617.96 L885.52 617.14 L888.66 618.28 L891.8 619.37 L894.94 618.6 L898.08 617.88 L901.22 619.51 L904.36 619.62 L907.5 618.14 L910.64 618.7 L913.78 619.71 L916.92 620.12 L920.06 620.87 L923.2 620.27 L926.34 618.46 L929.48 619.18 L932.62 621.11 L935.76 620.94 L938.9 621.23 L942.04 621.47 L945.18 620.85 L948.32 621.8 L951.46 622.82 L954.6 622.32 L957.74 621.29 L960.88 621.1 L964.02 620.87 L967.16 621.77 L970.3 622.17 L973.44 621.77 L976.58 621.98 L979.72 621.47 L982.86 622.05 L986 622.34" fill="none" stroke="#0000ff" stroke-width="4.17" stroke-linejoin="round" stroke-linecap="butt"/><path d="M697.12 581.94 L700.26 579.75 L703.4 578.53 L706.54 577.89 L709.68 576.27 L712.82 575.3 L715.96 573.75 L719.1 572.7 L722.24 571.81 L725.38 570.27 L728.52 570.24 L731.66 569.46 L734.8 569.11 L737.94 569.76 L741.08 570.03 L744.22 569.22 L747.36 569.66 L750.5 570.16 L753.64 570.06 L756.78 571.97 L759.92 573.83 L763.06 573.12 L766.2 573.31 L769.34 573.65 L772.48 572.39 L775.62 572.93 L778.76 573.96 L781.9 574.67 L785.04 574.78 L788.18 575.17 L791.32 575.97 L794.46 576.18 L797.6 575.44 L800.74 575.75 L803.88 576.35 L807.02 576.81 L810.16 577.58 L813.3 577.88 L816.44 577.78 L819.58 576.84 L822.72 576.75 L825.86 577.56 L829 577.57 L832.14 577.67 L835.28 577.97 L838.42 577.82 L841.56 577.9 L844.7 579.56 L847.84 580.73 L850.98 579.16 L854.12 578.69 L857.26 578.07 L860.4 578.32 L863.54 580 L866.68 579.25 L869.82 578.83 L872.96 578.79 L876.1 578.99 L879.24 580.3 L882.38 580.13 L885.52 580.4 L888.66 580.99 L891.8 580.81 L894.94 580.64 L898.08 579.88 L901.22 579.97 L904.36 579.34 L907.5 578.47 L910.64 577.29 L913.78 577.62 L916.92 577.33 L920.06 574.88 L923.2 576.04 L926.34 576.28 L929.48 576.28 L932.62 576.83 L935.76 577.13 L938.9 578.17 L942.04 578.93 L945.18 580.02 L948.32 580.22 L951.46 580.04 L954.6 579.95 L957.74 580.12 L960.88 578.77 L964.02 579.54 L967.16 580.71 L970.3 580.27 L973.44 581.19 L976.58 580.6 L979.72 580.63 L982.86 581.94 L986 581.88" fill="none" stroke="#00ffff" stroke-width="4.17" stroke-linejoin="round" stroke-linecap="butt"/><path d="M673.25 538.65 L675.14 539.66 L678.28 539.46 L681.42 538.94 L684.56 539.46 L687.7 538.64 L690.84 538.09 L693.98 538.52 L697.12 537.53 L700.26 537.16 L703.4 535.26 L706.54 531.95 L709.68 528.29 L712.82 526.2 L715.96 523.58 L719.1 519.74 L722.24 514.38 L725.38 512.05 L728.52 513.14 L731.66 513.18 L734.8 512.35 L737.94 511.87 L741.08 511.31 L744.22 510.74 L747.36 510.61 L750.5 510.94 L753.64 511.46 L756.78 511.46 L759.92 511.59 L763.06 512.13 L766.2 512.19 L769.34 511.58 L772.48 511.44 L775.62 510.09 L778.76 509.41 L781.9 509.23 L785.04 508.72 L788.18 508.7 L791.32 508.44 L794.46 509.07 L797.6 509 L800.74 508.66 L803.88 509.19 L807.02 508.19 L810.16 506.56 L813.3 507.54 L816.44 507.82 L819.58 506.9 L822.72 508.33 L825.86 508.68 L829 508.08 L832.14 508.07 L835.28 508.51 L838.42 509.45 L841.56 509.29 L844.7 508.18 L847.84 507.83 L850.98 507.99 L854.12 507.86 L857.26 508.8 L860.4 509.46 L863.54 508.79 L866.68 508.28 L869.82 508.5 L872.96 508.87 L876.1 509 L879.24 508.26 L882.38 509.62 L885.52 510.87 L888.66 508.49 L891.8 508.46 L894.94 510.89 L898.08 511.05 L901.22 510.96 L904.36 511.51 L907.5 510.73 L910.64 509.56 L913.78 509.55 L916.92 510.22 L920.06 510.04 L923.2 510.4 L926.34 511.47 L929.48 511.69 L932.62 511.11 L935.76 511.27 L938.9 511.87 L942.04 511.98 L945.18 512.49 L948.32 512.9 L951.46 512.21 L954.6 511.92 L957.74 511.91 L960.88 511.02 L964.02 510.95 L967.16 511.78 L970.3 512.63 L973.44 513.25 L976.58 512.48 L979.72 512.43 L982.86 512.47 L986 512.63" fill="none" stroke="#0000ff" stroke-width="4.17" stroke-linejoin="round" stroke-linecap="butt" stroke-dasharray="15.43 6.67"/><path d="M673.25 508.07 L675.14 508.23 L678.28 507.86 L681.42 508.11 L684.56 508.93 L687.7 508.68 L690.84 508.53 L693.98 507.85 L697.12 508.1 L700.26 509.38 L703.4 509.5 L706.54 509.04 L709.68 506.64 L712.82 503.27 L715.96 500.88 L719.1 496.68 L722.24 491.7 L725.38 489.79 L728.52 488.17 L731.66 487.1 L734.8 486.05 L737.94 487.15 L741.08 487.19 L744.22 486.6 L747.36 486.19 L750.5 484.48 L753.64 483.99 L756.78 485.36 L759.92 484.99 L763.06 483.52 L766.2 484.28 L769.34 484.35 L772.48 483.19 L775.62 483.49 L778.76 484.16 L781.9 484.13 L785.04 483.35 L788.18 484.06 L791.32 483.76 L794.46 482.98 L797.6 483.09 L800.74 483.29 L803.88 484.14 L807.02 483.44 L810.16 482.35 L813.3 482.74 L816.44 482.9 L819.58 482.41 L822.72 482.1 L825.86 481.96 L829 482.4 L832.14 482.36 L835.28 481.69 L838.42 481.83 L841.56 482.84 L844.7 481.61 L847.84 481.59 L850.98 482.32 L854.12 482.79 L857.26 483.09 L860.4 483.94 L863.54 484.03 L866.68 483.19 L869.82 484.14 L872.96 484.63 L876.1 483.29 L879.24 482.39 L882.38 483.89 L885.52 483.23 L888.66 482.87 L891.8 484.12 L894.94 483.7 L898.08 484.19 L901.22 485.27 L904.36 485.14 L907.5 483.73 L910.64 482.9 L913.78 484.46 L916.92 484.4 L920.06 483.62 L923.2 484.08 L926.34 484.11 L929.48 484.2 L932.62 484.81 L935.76 485.56 L938.9 485.45 L942.04 485.2 L945.18 484.54 L948.32 485.03 L951.46 484.56 L954.6 484.29 L957.74 485.5 L960.88 484.83 L964.02 484.32 L967.16 484.93 L970.3 485.78 L973.44 486.17 L976.58 486.5 L979.72 485.4 L982.86 484 L986 483.66" fill="none" stroke="#00ffff" stroke-width="4.17" stroke-linejoin="round" stroke-linecap="butt"/><path d="M673.25 574.65 L675.14 574.7 L678.28 574.5 L681.42 574.1 L684.56 574.58 L687.7 574.84 L690.84 573.48 L693.98 574.52 L697.12 576.36 L700.26 575.9 L703.4 571.36 L706.54 566.81 L709.68 564.01 L712.82 560.89 L715.96 557.35 L719.1 554.16 L722.24 553.05 L725.38 551.85 L728.52 550.19 L731.66 548.19 L734.8 545.62 L737.94 545.82 L741.08 545.36 L744.22 543.01 L747.36 542.75 L750.5 542.14 L753.64 542.21 L756.78 542.32 L759.92 543.21 L763.06 544.53 L766.2 543.09 L769.34 541.5 L772.48 542.87 L775.62 542.79 L778.76 541.89 L781.9 543.87 L785.04 543.71 L788.18 542.89 L791.32 542.72 L794.46 542.52 L797.6 543.51 L800.74 544.1 L803.88 543.94 L807.02 542.69 L810.16 543.05 L813.3 544.72 L816.44 543.33 L819.58 541.47 L822.72 542.37 L825.86 543.77 L829 544.91 L832.14 545.62 L835.28 544.8 L838.42 543.35 L841.56 544.34 L844.7 545.16 L847.84 544.86 L850.98 545.12 L854.12 544.82 L857.26 543.69 L860.4 544.42 L863.54 545.21 L866.68 544.41 L869.82 545.14 L872.96 545.92 L876.1 546.61 L879.24 546.08 L882.38 545.7 L885.52 546.68 L888.66 546.42 L891.8 546.58 L894.94 547.23 L898.08 546.99 L901.22 545.68 L904.36 545.69 L907.5 546.26 L910.64 546.99 L913.78 548.37 L916.92 546.67 L920.06 545.89 L923.2 547.75 L926.34 547.64 L929.48 546.55 L932.62 547.47 L935.76 548.33 L938.9 547.31 L942.04 547.39 L945.18 547.16 L948.32 546.2 L951.46 546.45 L954.6 547.25 L957.74 547.57 L960.88 547.73 L964.02 547.83 L967.16 547.37 L970.3 547.52 L973.44 547.22 L976.58 545.72 L979.72 546.6 L982.86 547.86 L986 547.18" fill="none" stroke="#0000ff" stroke-width="4.17" stroke-linejoin="round" stroke-linecap="butt"/><path d="M673.25 545.64 L675.14 546.1 L678.28 546.66 L681.42 545.96 L684.56 545.33 L687.7 545.56 L690.84 546.29 L693.98 546.19 L697.12 545.29 L700.26 545.7 L703.4 542.98 L706.54 538.91 L709.68 537.47 L712.82 535.51 L715.96 532.33 L719.1 530.59 L722.24 528.06 L725.38 526.73 L728.52 526.28 L731.66 526.9 L734.8 527.41 L737.94 526.78 L741.08 525.7 L744.22 525.55 L747.36 526.07 L750.5 524.38 L753.64 523.72 L756.78 524.45 L759.92 524 L763.06 523.93 L766.2 523.32 L769.34 522.87 L772.48 522.27 L775.62 522.45 L778.76 523.3 L781.9 521.32 L785.04 520.26 L788.18 520.61 L791.32 519.64 L794.46 519.46 L797.6 519.79 L800.74 520.63 L803.88 521.22 L807.02 519.57 L810.16 518.05 L813.3 517.98 L816.44 519.3 L819.58 520.82 L822.72 520.56 L825.86 520.11 L829 519.52 L832.14 519.49 L835.28 518.79 L838.42 518.64 L841.56 519.86 L844.7 519.12 L847.84 518.7 L850.98 519.72 L854.12 519.52 L857.26 518.06 L860.4 519.23 L863.54 520.46 L866.68 520.44 L869.82 521.51 L872.96 520.74 L876.1 519.46 L879.24 519.43 L882.38 519.72 L885.52 521.49 L888.66 521.88 L891.8 521.31 L894.94 522.08 L898.08 522.46 L901.22 521.57 L904.36 521.28 L907.5 520.78 L910.64 520.52 L913.78 522.76 L916.92 522.68 L920.06 521.12 L923.2 521.74 L926.34 523.15 L929.48 522.29 L932.62 522.43 L935.76 523.51 L938.9 523.92 L942.04 524.63 L945.18 524.6 L948.32 523.41 L951.46 521.94 L954.6 522.83 L957.74 524.28 L960.88 524.17 L964.02 523.31 L967.16 524.19 L970.3 525.1 L973.44 524.41 L976.58 523.49 L979.72 523.47 L982.86 523.69 L986 524.49" fill="none" stroke="#0000ff" stroke-width="4.17" stroke-linejoin="round" stroke-linecap="butt" stroke-dasharray="15.43 6.67"/><path d="M673.25 480.33 L675.14 478.83 L678.28 478.01 L681.42 478.27 L684.56 478.01 L687.7 477.71 L690.84 477.96 L693.98 477.46 L697.12 477.06 L700.26 477.58 L703.4 477.29 L706.54 477.04 L709.68 477.19 L712.82 478.74 L715.96 479.33 L719.1 477.12 L722.24 472.13 L725.38 468.44 L728.52 464.04 L731.66 460.3 L734.8 460.4 L737.94 459.87 L741.08 458.35 L744.22 457.27 L747.36 456.41 L750.5 455.81 L753.64 455.23 L756.78 454.72 L759.92 455.87 L763.06 454.65 L766.2 453.29 L769.34 453.33 L772.48 453.14 L775.62 453.71 L778.76 453.47 L781.9 453.64 L785.04 454.13 L788.18 453.74 L791.32 453.11 L794.46 453.11 L797.6 452.62 L800.74 451.45 L803.88 450.03 L807.02 448.93 L810.16 449.8 L813.3 450.06 L816.44 450.18 L819.58 450.48 L822.72 450.4 L825.86 450.93 L829 450.9 L832.14 451.43 L835.28 451.26 L838.42 450.63 L841.56 451.49 L844.7 451.55 L847.84 450.68 L850.98 450.88 L854.12 450.95 L857.26 450.29 L860.4 449.72 L863.54 450.65 L866.68 451.59 L869.82 450.77 L872.96 449.95 L876.1 450.14 L879.24 450.61 L882.38 451.61 L885.52 452.4 L888.66 450.74 L891.8 450.64 L894.94 450.42 L898.08 450.72 L901.22 452.12 L904.36 452.65 L907.5 452.2 L910.64 451.24 L913.78 450.54 L916.92 450.65 L920.06 451.95 L923.2 452.88 L926.34 452.81 L929.48 451.55 L932.62 451.13 L935.76 451.01 L938.9 450.97 L942.04 451.7 L945.18 451.87 L948.32 451.79 L951.46 452.88 L954.6 452.07 L957.74 451.16 L960.88 452.71 L964.02 452.73 L967.16 452.03 L970.3 451.72 L973.44 451.12 L976.58 453.37 L979.72 453.89 L982.86 451.41 L986 452.26" fill="none" stroke="#0000ff" stroke-width="4.17" stroke-linejoin="round" stroke-linecap="butt"/><circle cx="666.85" cy="621.7" r="10.4" fill="none" stroke="#000" stroke-width="3.1"/><circle cx="674.82" cy="613.34" r="10.4" fill="none" stroke="#000" stroke-width="3.1"/><circle cx="674.82" cy="604.32" r="10.4" fill="none" stroke="#000" stroke-width="3.1"/><circle cx="677.02" cy="591.13" r="10.4" fill="none" stroke="#000" stroke-width="3.1"/><circle cx="681.42" cy="583.98" r="10.4" fill="none" stroke="#000" stroke-width="3.1"/><circle cx="683.3" cy="577.38" r="10.4" fill="none" stroke="#000" stroke-width="3.1"/><circle cx="687.45" cy="572.99" r="10.4" fill="none" stroke="#000" stroke-width="3.1"/><circle cx="689.17" cy="570.69" r="10.4" fill="none" stroke="#000" stroke-width="3.1"/><circle cx="689.83" cy="568.12" r="10.4" fill="none" stroke="#000" stroke-width="3.1"/><circle cx="687.2" cy="565.59" r="10.4" fill="none" stroke="#000" stroke-width="3.1"/><circle cx="692.51" cy="563.65" r="10.4" fill="none" stroke="#000" stroke-width="3.1"/><circle cx="693.1" cy="561.48" r="10.4" fill="none" stroke="#000" stroke-width="3.1"/><circle cx="691.47" cy="560.01" r="10.4" fill="none" stroke="#000" stroke-width="3.1"/><circle cx="692.45" cy="558.36" r="10.4" fill="none" stroke="#000" stroke-width="3.1"/><circle cx="690.55" cy="556.29" r="10.4" fill="none" stroke="#000" stroke-width="3.1"/><circle cx="692.48" cy="554.68" r="10.4" fill="none" stroke="#000" stroke-width="3.1"/><circle cx="695.86" cy="552.15" r="10.4" fill="none" stroke="#000" stroke-width="3.1"/><circle cx="696.58" cy="550.62" r="10.4" fill="none" stroke="#000" stroke-width="3.1"/><circle cx="696.24" cy="549.12" r="10.4" fill="none" stroke="#000" stroke-width="3.1"/><circle cx="693.69" cy="547.63" r="10.4" fill="none" stroke="#000" stroke-width="3.1"/><circle cx="695.65" cy="545.16" r="10.4" fill="none" stroke="#000" stroke-width="3.1"/><circle cx="700.12" cy="543.56" r="10.4" fill="none" stroke="#000" stroke-width="3.1"/><circle cx="697.55" cy="541.09" r="10.4" fill="none" stroke="#000" stroke-width="3.1"/><circle cx="699.76" cy="538.5" r="10.4" fill="none" stroke="#000" stroke-width="3.1"/><circle cx="698.9" cy="536.29" r="10.4" fill="none" stroke="#000" stroke-width="3.1"/><circle cx="702.29" cy="533.73" r="10.4" fill="none" stroke="#000" stroke-width="3.1"/><circle cx="704.27" cy="531.13" r="10.4" fill="none" stroke="#000" stroke-width="3.1"/><circle cx="702.22" cy="529.42" r="10.4" fill="none" stroke="#000" stroke-width="3.1"/><circle cx="701.71" cy="527.88" r="10.4" fill="none" stroke="#000" stroke-width="3.1"/><circle cx="703.01" cy="526.48" r="10.4" fill="none" stroke="#000" stroke-width="3.1"/><circle cx="702.29" cy="524.36" r="10.4" fill="none" stroke="#000" stroke-width="3.1"/><circle cx="704.79" cy="522.15" r="10.4" fill="none" stroke="#000" stroke-width="3.1"/><circle cx="707.84" cy="520.42" r="10.4" fill="none" stroke="#000" stroke-width="3.1"/><circle cx="706.04" cy="518.46" r="10.4" fill="none" stroke="#000" stroke-width="3.1"/><circle cx="708.72" cy="516.51" r="10.4" fill="none" stroke="#000" stroke-width="3.1"/><circle cx="710.59" cy="515.11" r="10.4" fill="none" stroke="#000" stroke-width="3.1"/><circle cx="709.96" cy="513.77" r="10.4" fill="none" stroke="#000" stroke-width="3.1"/><circle cx="707.18" cy="511.33" r="10.4" fill="none" stroke="#000" stroke-width="3.1"/><circle cx="709.8" cy="508.97" r="10.4" fill="none" stroke="#000" stroke-width="3.1"/><circle cx="708.77" cy="506.89" r="10.4" fill="none" stroke="#000" stroke-width="3.1"/><circle cx="710.15" cy="505.51" r="10.4" fill="none" stroke="#000" stroke-width="3.1"/><circle cx="711.18" cy="502.93" r="10.4" fill="none" stroke="#000" stroke-width="3.1"/><circle cx="715.72" cy="500.61" r="10.4" fill="none" stroke="#000" stroke-width="3.1"/><circle cx="713.72" cy="498.05" r="10.4" fill="none" stroke="#000" stroke-width="3.1"/><circle cx="715.29" cy="496.26" r="10.4" fill="none" stroke="#000" stroke-width="3.1"/><circle cx="714.06" cy="493.92" r="10.4" fill="none" stroke="#000" stroke-width="3.1"/><circle cx="718.37" cy="491.61" r="10.4" fill="none" stroke="#000" stroke-width="3.1"/><circle cx="715.46" cy="489.16" r="10.4" fill="none" stroke="#000" stroke-width="3.1"/><circle cx="716.68" cy="486.59" r="10.4" fill="none" stroke="#000" stroke-width="3.1"/><circle cx="719.94" cy="484.82" r="10.4" fill="none" stroke="#000" stroke-width="3.1"/><circle cx="719.52" cy="482.29" r="10.4" fill="none" stroke="#000" stroke-width="3.1"/><circle cx="721.49" cy="479.75" r="10.4" fill="none" stroke="#000" stroke-width="3.1"/><circle cx="720.98" cy="478.02" r="10.4" fill="none" stroke="#000" stroke-width="3.1"/><circle cx="720.35" cy="476.47" r="10.4" fill="none" stroke="#000" stroke-width="3.1"/><circle cx="723.98" cy="474.95" r="10.4" fill="none" stroke="#000" stroke-width="3.1"/><circle cx="722.3" cy="472.32" r="10.4" fill="none" stroke="#000" stroke-width="3.1"/><circle cx="726.96" cy="470.93" r="10.4" fill="none" stroke="#000" stroke-width="3.1"/><circle cx="724.79" cy="468.91" r="10.4" fill="none" stroke="#000" stroke-width="3.1"/><circle cx="726.34" cy="467.28" r="10.4" fill="none" stroke="#000" stroke-width="3.1"/><circle cx="726.53" cy="464.87" r="10.4" fill="none" stroke="#000" stroke-width="3.1"/><circle cx="725.22" cy="462.99" r="10.4" fill="none" stroke="#000" stroke-width="3.1"/><circle cx="726.03" cy="460.46" r="10.4" fill="none" stroke="#000" stroke-width="3.1"/><circle cx="730.81" cy="455.88" r="10.4" fill="none" stroke="#000" stroke-width="3.1"/><circle cx="731.79" cy="450.38" r="10.4" fill="none" stroke="#000" stroke-width="3.1"/><path d="M662.63 610.53 L683.43 631.33 M662.63 631.33 L683.43 610.53" stroke="#f00" stroke-width="3.3" fill="none"/><path d="M665.24 602.5 L686.04 623.3 M665.24 623.3 L686.04 602.5" stroke="#f00" stroke-width="3.3" fill="none"/><path d="M670.55 582.16 L691.35 602.96 M670.55 602.96 L691.35 582.16" stroke="#f00" stroke-width="3.3" fill="none"/><path d="M673.22 570.39 L694.02 591.19 M673.22 591.19 L694.02 570.39" stroke="#f00" stroke-width="3.3" fill="none"/><path d="M678.87 559.29 L699.67 580.09 M678.87 580.09 L699.67 559.29" stroke="#f00" stroke-width="3.3" fill="none"/><path d="M680.65 553.55 L701.45 574.35 M680.65 574.35 L701.45 553.55" stroke="#f00" stroke-width="3.3" fill="none"/><path d="M684.28 542.86 L705.08 563.66 M684.28 563.66 L705.08 542.86" stroke="#f00" stroke-width="3.3" fill="none"/><path d="M686.23 533.14 L707.03 553.94 M686.23 553.94 L707.03 533.14" stroke="#f00" stroke-width="3.3" fill="none"/><path d="M689.16 525.57 L709.96 546.37 M689.16 546.37 L709.96 525.57" stroke="#f00" stroke-width="3.3" fill="none"/><path d="M693.33 515.51 L714.13 536.31 M693.33 536.31 L714.13 515.51" stroke="#f00" stroke-width="3.3" fill="none"/><path d="M698.38 507.82 L719.18 528.62 M698.38 528.62 L719.18 507.82" stroke="#f00" stroke-width="3.3" fill="none"/><path d="M702.04 497.72 L722.84 518.52 M702.04 518.52 L722.84 497.72" stroke="#f00" stroke-width="3.3" fill="none"/><path d="M703.34 490.03 L724.14 510.83 M703.34 510.83 L724.14 490.03" stroke="#f00" stroke-width="3.3" fill="none"/><path d="M706.77 480.67 L727.57 501.47 M706.77 501.47 L727.57 480.67" stroke="#f00" stroke-width="3.3" fill="none"/><path d="M714.98 458.68 L735.78 479.48 M714.98 479.48 L735.78 458.68" stroke="#f00" stroke-width="3.3" fill="none"/><path d="M707.44 475.17 L728.24 495.97 M707.44 495.97 L728.24 475.17" stroke="#f00" stroke-width="3.3" fill="none"/><path d="M721.45 440.64 L742.25 461.44 M721.45 461.44 L742.25 440.64" stroke="#f00" stroke-width="3.3" fill="none"/></g>
<rect x="640" y="413" width="346" height="222" fill="none" stroke="#000" stroke-width="2.0"/>
<line x1="672" y1="635" x2="672" y2="642" stroke="#000" stroke-width="2.0"/>
<text x="672" y="672" font-size="29.17" text-anchor="middle">0</text>
<line x1="829" y1="635" x2="829" y2="642" stroke="#000" stroke-width="2.0"/>
<text x="829" y="672" font-size="29.17" text-anchor="middle">50</text>
<line x1="986" y1="635" x2="986" y2="642" stroke="#000" stroke-width="2.0"/>
<text x="986" y="672" font-size="29.17" text-anchor="middle">100</text>
<line x1="633" y1="529" x2="640" y2="529" stroke="#000" stroke-width="2.0"/>
<text x="625.4" y="539.6" font-size="29.17" text-anchor="end">100</text>
<line x1="633" y1="419" x2="640" y2="419" stroke="#000" stroke-width="2.0"/>
<text x="625.4" y="429.6" font-size="29.17" text-anchor="end">200</text>
<text x="813" y="708.5" font-size="29.17" text-anchor="middle">Time (s)</text>
<text transform="translate(554.5 524) rotate(-90)" font-size="29.17" text-anchor="middle">Distance (km)</text>
<text x="813" y="400.6" font-size="20.9" text-anchor="middle">Start=25/11/27 18:00:38</text></svg></body></html>
